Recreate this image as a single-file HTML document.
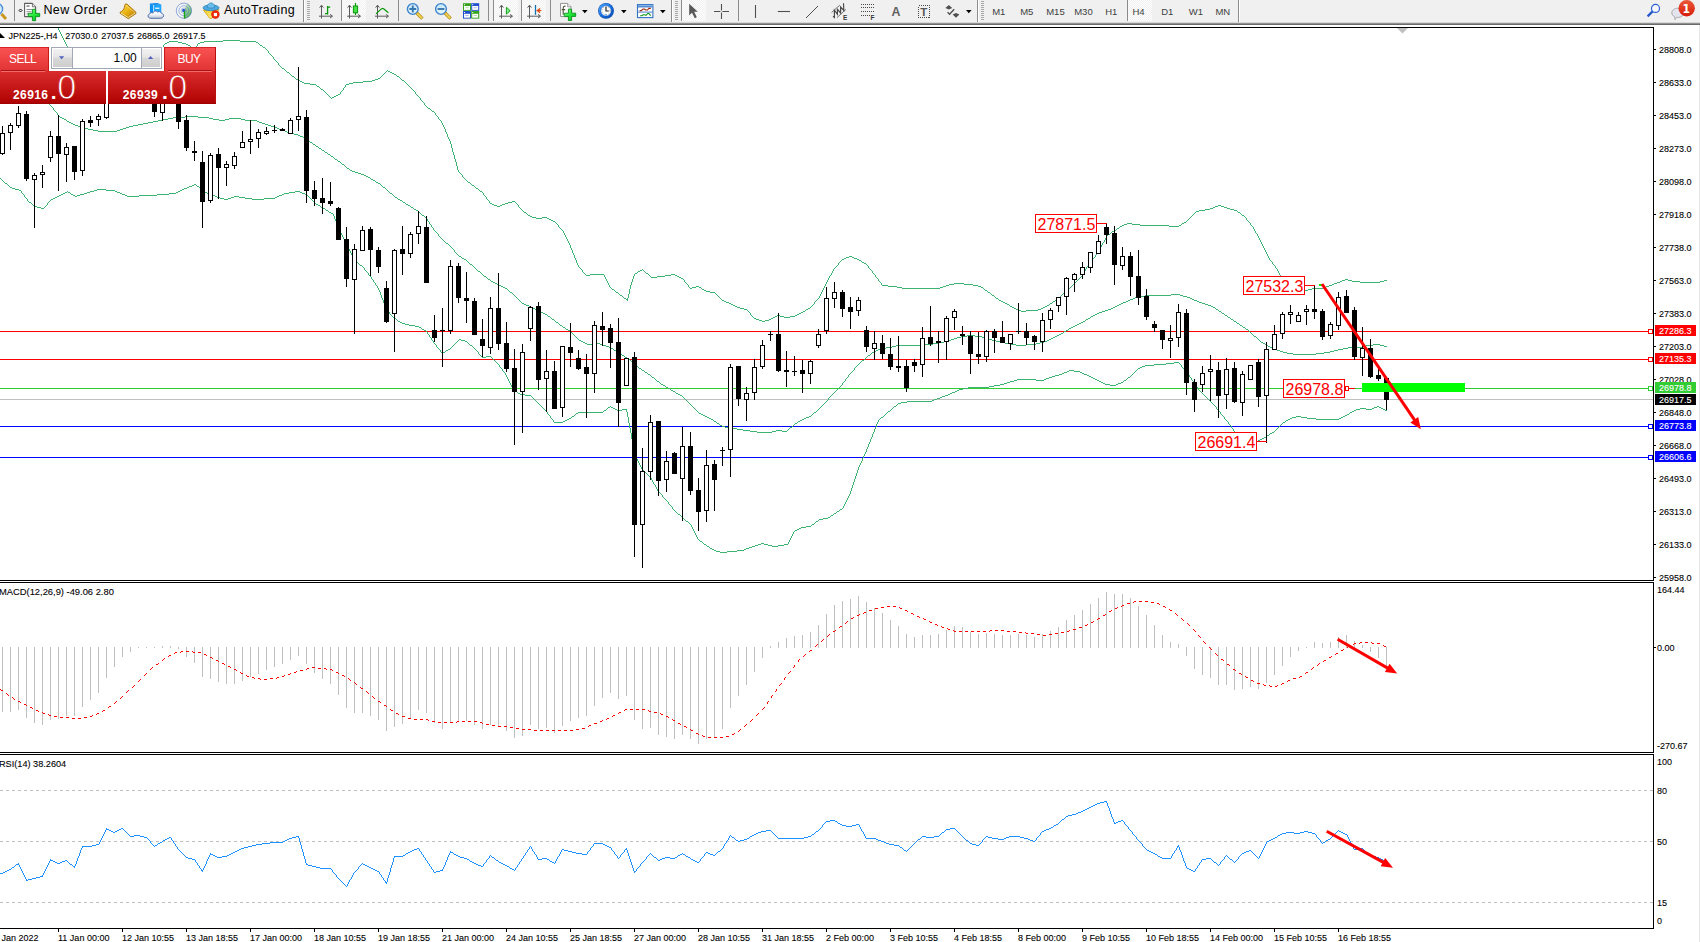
<!DOCTYPE html>
<html><head><meta charset="utf-8"><title>JPN225-,H4</title>
<style>
html,body{margin:0;padding:0;background:#fff;}
body{width:1700px;height:942px;overflow:hidden;position:relative;font-family:"Liberation Sans",sans-serif;}
#chart{position:absolute;left:0;top:0;}
#tb{position:absolute;left:0;top:0;width:1700px;height:25px;background:#f0f0f0;}
#tb .bl{position:absolute;left:0;width:1700px;height:1px;}
#tb .t{position:absolute;white-space:nowrap;color:#000;}
#tb svg{position:absolute;overflow:visible;}
.sep{position:absolute;top:2px;width:1px;height:19px;background:#a0a0a0;}
.tf{position:absolute;top:6px;font-size:9.5px;color:#444;white-space:nowrap;}

</style></head><body>
<svg id="chart" width="1700" height="942" viewBox="0 0 1700 942">
<defs><clipPath id="cpMain"><rect x="0" y="28" width="1653" height="552"/></clipPath></defs>
<g shape-rendering="crispEdges">
<rect x="0" y="25" width="1700" height="917" fill="#fff"/>
<g clip-path="url(#cpMain)">
<rect x="0" y="399" width="1653" height="1" fill="#c0c0c0"/>
<rect x="0" y="331" width="1653" height="1" fill="#ff0000"/>
<rect x="0" y="359" width="1653" height="1" fill="#ff0000"/>
<rect x="0" y="388" width="1653" height="1" fill="#32cd32"/>
<rect x="0" y="426" width="1653" height="1" fill="#0000ff"/>
<rect x="0" y="457" width="1653" height="1" fill="#0000ff"/>
<path d="M304 83h6v1h-6zM349 83h4v1h-4zM1127 223h5v1h-5zM1182 223h2v1h-2zM690 288h2v1h-2zM902 288h38v1h-38zM1291 288h2v1h-2zM1312 288h12v1h-12zM169 41h9v1h-9zM204 41h19v1h-19zM240 41h16v1h-16zM681 278h2v1h-2zM1340 281h2v1h-2zM1352 281h8v1h-8zM1380 281h4v1h-4zM1122 225h2v1h-2zM1140 225h29v1h-29zM1179 225h2v1h-2zM859 260h2v1h-2zM616 292h2v1h-2zM710 292h5v1h-5zM988 292h2v1h-2zM188 45h2v1h-2zM260 45h2v1h-2zM1337 282h3v1h-3zM1360 282h20v1h-20zM70 52h89v1h-89zM949 284h5v1h-5zM964 284h9v1h-9zM1332 284h2v1h-2zM740 308h4v1h-4zM808 308h2v1h-2zM1014 308h2v1h-2zM1041 308h2v1h-2zM590 274h14v1h-14zM671 274h4v1h-4zM731 304h2v1h-2zM1007 304h2v1h-2zM302 82h2v1h-2zM353 82h10v1h-10zM724 301h2v1h-2zM1001 301h2v1h-2zM1053 301h2v1h-2zM844 258h2v1h-2zM854 258h3v1h-3zM704 290h2v1h-2zM985 290h2v1h-2zM1066 290h2v1h-2zM1295 290h13v1h-13zM524 212h2v1h-2zM1238 212h2v1h-2zM733 305h2v1h-2zM1047 305h2v1h-2zM657 276h8v1h-8zM677 276h2v1h-2zM1120 226h2v1h-2zM1169 226h10v1h-10zM773 317h2v1h-2zM784 317h6v1h-6zM635 273h2v1h-2zM646 273h2v1h-2zM777 315h3v1h-3zM795 315h2v1h-2zM754 318h2v1h-2zM771 318h2v1h-2zM296 79h2v1h-2zM375 79h3v1h-3zM651 277h6v1h-6zM679 277h2v1h-2zM167 42h2v1h-2zM178 42h4v1h-4zM200 42h4v1h-4zM256 42h2v1h-2zM846 257h3v1h-3zM852 257h2v1h-2zM1342 280h3v1h-3zM1348 280h4v1h-4zM1384 280h3v1h-3zM1210 208h3v1h-3zM1227 208h3v1h-3zM1205 209h5v1h-5zM1230 209h4v1h-4zM1213 207h2v1h-2zM1224 207h3v1h-3zM692 287h4v1h-4zM699 287h2v1h-2zM897 287h5v1h-5zM940 287h3v1h-3zM981 287h2v1h-2zM1289 287h2v1h-2zM1324 287h2v1h-2zM300 81h2v1h-2zM363 81h9v1h-9zM586 275h4v1h-4zM665 275h6v1h-6zM675 275h2v1h-2zM165 43h2v1h-2zM182 43h4v1h-4zM198 43h2v1h-2zM1199 210h6v1h-6zM1234 210h3v1h-3zM392 73h2v1h-2zM744 309h3v1h-3zM806 309h2v1h-2zM1016 309h2v1h-2zM1038 309h3v1h-3zM1345 279h3v1h-3zM508 202h4v1h-4zM528 215h2v1h-2zM1242 215h2v1h-2zM336 95h2v1h-2zM638 271h2v1h-2zM882 285h6v1h-6zM946 285h3v1h-3zM973 285h5v1h-5zM1329 285h3v1h-3zM332 97h2v1h-2zM310 84h6v1h-6zM346 84h3v1h-3zM864 263h2v1h-2zM737 307h3v1h-3zM1012 307h2v1h-2zM1043 307h2v1h-2zM729 303h2v1h-2zM1005 303h2v1h-2zM1050 303h2v1h-2zM722 300h2v1h-2zM999 300h2v1h-2zM1055 300h2v1h-2zM530 216h2v1h-2zM612 289h2v1h-2zM702 289h2v1h-2zM1293 289h2v1h-2zM1308 289h4v1h-4zM1196 211h3v1h-3zM1184 222h2v1h-2zM640 270h2v1h-2zM223 40h17v1h-17zM696 286h3v1h-3zM888 286h9v1h-9zM943 286h3v1h-3zM978 286h3v1h-3zM1326 286h3v1h-3zM759 320h3v1h-3zM765 320h4v1h-4zM494 205h3v1h-3zM500 205h2v1h-2zM1218 205h3v1h-3zM620 295h2v1h-2zM992 295h2v1h-2zM480 191h2v1h-2zM954 283h10v1h-10zM1334 283h3v1h-3zM626 299h2v1h-2zM1018 310h3v1h-3zM1026 310h12v1h-12zM803 311h2v1h-2zM1021 311h5v1h-5zM1124 224h3v1h-3zM1132 224h8v1h-8zM476 188h2v1h-2zM492 204h2v1h-2zM502 204h3v1h-3zM394 74h2v1h-2zM842 259h2v1h-2zM857 259h2v1h-2zM532 217h4v1h-4zM542 217h5v1h-5zM862 262h2v1h-2zM263 47h2v1h-2zM497 206h3v1h-3zM1215 206h3v1h-3zM1221 206h3v1h-3zM536 218h6v1h-6zM547 218h2v1h-2zM775 316h2v1h-2zM780 316h4v1h-4zM790 316h5v1h-5zM192 48h4v1h-4zM334 96h2v1h-2zM553 221h2v1h-2zM186 44h2v1h-2zM549 219h2v1h-2zM624 298h2v1h-2zM996 298h2v1h-2zM849 256h3v1h-3zM706 291h4v1h-4zM756 319h3v1h-3zM769 319h2v1h-2zM317 86h2v1h-2zM797 314h2v1h-2zM298 80h2v1h-2zM372 80h3v1h-3zM402 80h2v1h-2zM551 220h2v1h-2zM726 302h3v1h-3zM1003 302h2v1h-2zM1114 230h2v1h-2zM735 306h2v1h-2zM1010 306h2v1h-2zM1045 306h2v1h-2zM801 312h2v1h-2zM321 89h2v1h-2zM762 321h3v1h-3zM292 76h2v1h-2zM397 76h2v1h-2zM287 72h2v1h-2zM390 72h2v1h-2zM1112 231h2v1h-2zM338 94h2v1h-2zM799 313h2v1h-2zM428 108h2v1h-2zM490 203h2v1h-2zM505 203h3v1h-3zM378 78h2v1h-2zM432 111h2v1h-2zM388 71h2v1h-2zM512 201h3v1h-3zM1117 228h2v1h-2zM1108 234h2v1h-2zM472 185h2v1h-2zM468 182h2v1h-2zM282 68h2v1h-2zM1262 244h1v2h-1zM571 248h1v2h-1zM1060 296h1v1h-1zM1110 233h1v1h-1zM556 223h1v1h-1zM470 183h1v1h-1zM343 88h1v2h-1zM877 278h1v1h-1zM994 296h1v1h-1zM518 205h1v2h-1zM629 289h1v5h-1zM577 263h1v2h-1zM1058 298h1v1h-1zM881 283h1v2h-1zM1102 243h1v2h-1zM1082 274h1v2h-1zM607 281h1v2h-1zM831 273h1v2h-1zM400 78h1v1h-1zM488 200h1v1h-1zM1240 213h1v1h-1zM1094 257h1v1h-1zM1272 262h1v2h-1zM1280 275h1v2h-1zM401 79h1v1h-1zM611 288h1v1h-1zM196 46h1v2h-1zM1265 250h1v2h-1zM614 290h1v1h-1zM1273 264h1v1h-1zM63 38h1v2h-1zM812 305h1v1h-1zM1086 267h1v2h-1zM604 275h1v2h-1zM268 51h1v2h-1zM434 112h1v1h-1zM60 32h1v2h-1zM1074 283h1v1h-1zM720 298h1v1h-1zM827 280h1v2h-1zM526 213h1v1h-1zM991 294h1v1h-1zM1247 220h1v1h-1zM721 299h1v1h-1zM630 285h1v4h-1zM570 245h1v3h-1zM275 60h1v1h-1zM870 269h1v1h-1zM276 61h1v1h-1zM454 155h1v4h-1zM823 288h1v2h-1zM1194 213h1v1h-1zM645 272h1v1h-1zM447 134h1v3h-1zM574 255h1v3h-1zM415 92h1v2h-1zM191 47h1v1h-1zM610 287h1v1h-1zM815 301h1v1h-1zM753 317h1v1h-1zM465 179h1v1h-1zM1279 273h1v2h-1zM421 100h1v1h-1zM1181 224h1v1h-1zM294 77h1v1h-1zM59 30h1v2h-1zM1264 248h1v2h-1zM422 101h1v1h-1zM990 293h1v1h-1zM451 144h1v4h-1zM1283 280h1v1h-1zM1246 218h1v2h-1zM869 268h1v1h-1zM637 272h1v1h-1zM558 225h1v2h-1zM576 260h1v3h-1zM1101 245h1v2h-1zM396 75h1v1h-1zM407 84h1v1h-1zM1250 223h1v2h-1zM559 227h1v1h-1zM520 208h1v1h-1zM323 90h1v1h-1zM880 282h1v1h-1zM580 268h1v1h-1zM521 209h1v1h-1zM458 170h1v2h-1zM1065 291h1v1h-1zM1105 238h1v2h-1zM1085 269h1v2h-1zM689 287h1v1h-1zM606 279h1v2h-1zM475 187h1v1h-1zM1062 294h1v1h-1zM826 282h1v2h-1zM62 36h1v2h-1zM1275 266h1v2h-1zM342 90h1v1h-1zM345 85h1v2h-1zM701 288h1v1h-1zM436 115h1v1h-1zM444 127h1v2h-1zM628 294h1v4h-1zM160 49h1v2h-1zM1189 218h1v1h-1zM437 116h1v1h-1zM1081 276h1v1h-1zM267 50h1v1h-1zM1261 242h1v2h-1zM569 243h1v2h-1zM810 307h1v1h-1zM822 290h1v2h-1zM319 87h1v1h-1zM384 73h1v1h-1zM278 63h1v2h-1zM289 73h1v1h-1zM1254 229h1v2h-1zM1069 288h1v1h-1zM609 285h1v2h-1zM457 166h1v4h-1zM821 292h1v2h-1zM715 293h1v1h-1zM1282 278h1v2h-1zM58 28h1v2h-1zM414 91h1v1h-1zM572 250h1v3h-1zM61 34h1v2h-1zM633 276h1v3h-1zM834 268h1v1h-1zM716 294h1v1h-1zM424 103h1v2h-1zM330 97h1v1h-1zM1278 271h1v2h-1zM435 113h1v2h-1zM868 266h1v2h-1zM425 105h1v1h-1zM1260 240h1v2h-1zM872 271h1v2h-1zM1104 240h1v2h-1zM1049 304h1v1h-1zM1084 271h1v1h-1zM830 275h1v1h-1zM632 279h1v3h-1zM450 141h1v3h-1zM471 184h1v1h-1zM1093 258h1v1h-1zM582 270h1v2h-1zM1096 254h1v1h-1zM277 62h1v1h-1zM413 90h1v1h-1zM69 50h1v2h-1zM814 302h1v2h-1zM575 258h1v2h-1zM583 272h1v1h-1zM262 46h1v1h-1zM453 152h1v3h-1zM605 277h1v2h-1zM1076 281h1v1h-1zM608 283h1v2h-1zM446 132h1v2h-1zM1100 247h1v2h-1zM1281 277h1v1h-1zM527 214h1v1h-1zM163 45h1v2h-1zM1274 265h1v1h-1zM423 102h1v1h-1zM285 70h1v1h-1zM269 53h1v1h-1zM443 125h1v2h-1zM1263 246h1v2h-1zM1248 221h1v1h-1zM270 54h1v1h-1zM1099 249h1v2h-1zM1259 238h1v2h-1zM568 241h1v2h-1zM825 284h1v2h-1zM1237 211h1v1h-1zM1249 222h1v1h-1zM1057 299h1v1h-1zM871 270h1v1h-1zM817 299h1v1h-1zM489 201h1v2h-1zM561 229h1v1h-1zM68 48h1v2h-1zM833 269h1v2h-1zM1191 216h1v1h-1zM431 110h1v1h-1zM452 148h1v4h-1zM523 211h1v1h-1zM416 94h1v1h-1zM445 129h1v3h-1zM1277 269h1v2h-1zM466 180h1v1h-1zM386 71h1v1h-1zM438 117h1v2h-1zM284 69h1v1h-1zM295 78h1v1h-1zM1080 277h1v1h-1zM467 181h1v1h-1zM829 276h1v2h-1zM439 119h1v1h-1zM1092 259h1v2h-1zM456 162h1v4h-1zM841 260h1v1h-1zM1071 286h1v1h-1zM442 123h1v2h-1zM820 294h1v2h-1zM258 43h1v1h-1zM1255 231h1v2h-1zM1064 292h1v1h-1zM875 275h1v2h-1zM627 298h1v1h-1zM627 300h1v1h-1zM1087 266h1v1h-1zM836 266h1v1h-1zM1256 233h1v1h-1zM482 192h1v1h-1zM324 91h1v1h-1zM1068 289h1v1h-1zM430 109h1v1h-1zM159 51h1v1h-1zM344 87h1v1h-1zM449 139h1v2h-1zM1252 226h1v1h-1zM459 172h1v1h-1zM684 280h1v2h-1zM325 92h1v1h-1zM987 291h1v1h-1zM631 282h1v3h-1zM748 311h1v1h-1zM1083 272h1v2h-1zM1276 268h1v1h-1zM1095 255h1v2h-1zM1284 281h1v1h-1zM331 98h1v1h-1zM623 297h1v1h-1zM824 286h1v2h-1zM455 159h1v3h-1zM197 44h1v2h-1zM1285 282h1v1h-1zM1103 242h1v1h-1zM805 310h1v1h-1zM1258 236h1v2h-1zM515 202h1v1h-1zM567 239h1v2h-1zM408 85h1v1h-1zM427 107h1v1h-1zM1251 225h1v1h-1zM560 228h1v1h-1zM634 274h1v2h-1zM581 269h1v1h-1zM381 76h1v1h-1zM162 47h1v1h-1zM747 310h1v1h-1zM279 65h1v1h-1zM874 274h1v1h-1zM522 210h1v1h-1zM1107 235h1v1h-1zM564 233h1v2h-1zM1075 282h1v1h-1zM1119 227h1v1h-1zM280 66h1v1h-1zM1111 232h1v1h-1zM291 75h1v1h-1zM828 278h1v2h-1zM1195 212h1v1h-1zM64 40h1v2h-1zM622 296h1v1h-1zM1059 297h1v1h-1zM717 295h1v1h-1zM1009 305h1v1h-1zM441 121h1v2h-1zM1098 251h1v2h-1zM832 271h1v2h-1zM320 88h1v1h-1zM426 106h1v1h-1zM1186 221h1v1h-1zM1078 279h1v1h-1zM566 237h1v2h-1zM290 74h1v1h-1zM1090 262h1v1h-1zM983 288h1v1h-1zM839 262h1v1h-1zM873 273h1v1h-1zM642 269h1v1h-1zM448 137h1v2h-1zM683 279h1v1h-1zM67 46h1v2h-1zM563 231h1v2h-1zM584 273h1v1h-1zM573 253h1v2h-1zM750 313h1v2h-1zM462 175h1v2h-1zM585 274h1v1h-1zM385 72h1v1h-1zM1269 258h1v2h-1zM819 296h1v2h-1zM1287 285h1v1h-1zM1070 287h1v1h-1zM440 120h1v1h-1zM816 300h1v1h-1zM286 71h1v1h-1zM1106 236h1v2h-1zM1193 214h1v1h-1zM1257 234h1v2h-1zM565 235h1v2h-1zM483 193h1v2h-1zM811 306h1v1h-1zM484 195h1v1h-1zM618 293h1v1h-1zM66 44h1v2h-1zM1073 284h1v1h-1zM316 85h1v1h-1zM461 174h1v1h-1zM998 299h1v1h-1zM686 283h1v1h-1zM327 94h1v1h-1zM1286 283h1v2h-1zM1089 263h1v2h-1zM648 274h1v1h-1zM838 263h1v2h-1zM271 55h1v1h-1zM1253 227h1v2h-1zM161 48h1v1h-1zM410 87h1v1h-1zM861 261h1v1h-1zM1190 217h1v1h-1zM562 230h1v1h-1zM876 277h1v1h-1zM341 91h1v1h-1zM411 88h1v1h-1zM749 312h1v1h-1zM281 67h1v1h-1zM417 95h1v1h-1zM1188 219h1v1h-1zM326 93h1v1h-1zM487 199h1v1h-1zM1268 256h1v2h-1zM418 96h1v1h-1zM383 74h1v1h-1zM259 44h1v1h-1zM1077 280h1v1h-1zM719 297h1v1h-1zM164 44h1v1h-1zM835 267h1v1h-1zM555 222h1v1h-1zM516 203h1v1h-1zM409 86h1v1h-1zM274 59h1v1h-1zM517 204h1v1h-1zM486 197h1v2h-1zM1061 295h1v1h-1zM65 42h1v2h-1zM460 173h1v1h-1zM685 282h1v1h-1zM399 77h1v1h-1zM644 271h1v1h-1zM1097 253h1v1h-1zM1267 254h1v2h-1zM273 57h1v2h-1zM478 189h1v1h-1zM1271 261h1v1h-1zM479 190h1v1h-1zM340 92h1v2h-1zM380 77h1v1h-1zM878 279h1v2h-1zM879 281h1v1h-1zM190 46h1v1h-1zM1072 285h1v1h-1zM818 298h1v1h-1zM420 98h1v2h-1zM1116 229h1v1h-1zM718 296h1v1h-1zM1192 215h1v1h-1zM464 178h1v1h-1zM813 304h1v1h-1zM1288 286h1v1h-1zM984 289h1v1h-1zM387 70h1v1h-1zM578 265h1v2h-1zM406 83h1v1h-1zM519 207h1v1h-1zM619 294h1v1h-1zM1245 217h1v1h-1zM579 267h1v1h-1zM643 270h1v1h-1zM485 196h1v1h-1zM751 315h1v1h-1zM463 177h1v1h-1zM688 285h1v2h-1zM474 186h1v1h-1zM1079 278h1v1h-1zM1088 265h1v1h-1zM1266 252h1v2h-1zM752 316h1v1h-1zM1091 261h1v1h-1zM837 265h1v1h-1zM1270 260h1v1h-1zM419 97h1v1h-1zM265 48h1v1h-1zM1241 214h1v1h-1zM404 81h1v1h-1zM1063 293h1v1h-1zM1244 216h1v1h-1zM866 264h1v1h-1zM266 49h1v1h-1zM1052 302h1v1h-1zM329 96h1v1h-1zM405 82h1v1h-1zM615 291h1v1h-1zM272 56h1v1h-1zM867 265h1v1h-1zM557 224h1v1h-1zM1187 220h1v1h-1zM995 297h1v1h-1zM412 89h1v1h-1zM687 284h1v1h-1zM328 95h1v1h-1zM382 75h1v1h-1zM840 261h1v1h-1zM649 275h1v1h-1zM650 276h1v1h-1z" fill="#3cb371"/>
<path d="M98 131h19v1h-19zM285 131h2v1h-2zM1145 295h26v1h-26zM1180 295h3v1h-3zM73 124h2v1h-2zM138 124h5v1h-5zM265 124h3v1h-3zM64 119h2v1h-2zM163 119h5v1h-5zM213 119h6v1h-6zM225 119h4v1h-4zM241 119h4v1h-4zM470 264h2v1h-2zM560 325h2v1h-2zM1075 325h2v1h-2zM1240 325h2v1h-2zM75 125h3v1h-3zM133 125h5v1h-5zM268 125h3v1h-3zM878 349h3v1h-3zM1274 349h3v1h-3zM1338 349h5v1h-5zM737 429h6v1h-6zM614 350h2v1h-2zM876 350h2v1h-2zM1277 350h3v1h-3zM1334 350h4v1h-4zM603 345h3v1h-3zM896 345h28v1h-28zM1016 345h10v1h-10zM1266 345h2v1h-2zM1366 345h7v1h-7zM1380 345h4v1h-4zM67 121h2v1h-2zM153 121h5v1h-5zM257 121h2v1h-2zM69 122h2v1h-2zM148 122h5v1h-5zM259 122h3v1h-3zM717 423h2v1h-2zM795 423h2v1h-2zM951 339h3v1h-3zM989 339h3v1h-3zM1049 339h2v1h-2zM609 347h2v1h-2zM886 347h6v1h-6zM1270 347h2v1h-2zM1348 347h14v1h-14zM957 337h4v1h-4zM982 337h3v1h-3zM1053 337h2v1h-2zM587 344h6v1h-6zM600 344h3v1h-3zM924 344h9v1h-9zM1010 344h6v1h-6zM1026 344h10v1h-10zM1373 344h7v1h-7zM556 322h2v1h-2zM1081 322h2v1h-2zM503 287h2v1h-2zM757 432h15v1h-15zM566 329h2v1h-2zM1246 329h2v1h-2zM62 118h2v1h-2zM168 118h5v1h-5zM209 118h4v1h-4zM229 118h12v1h-12zM526 305h3v1h-3zM1117 305h2v1h-2zM1208 305h3v1h-3zM645 372h2v1h-2zM552 319h2v1h-2zM1086 319h2v1h-2zM1231 319h2v1h-2zM81 127h3v1h-3zM126 127h3v1h-3zM274 127h3v1h-3zM84 128h4v1h-4zM123 128h3v1h-3zM277 128h2v1h-2zM731 428h6v1h-6zM585 343h2v1h-2zM593 343h7v1h-7zM933 343h5v1h-5zM1005 343h5v1h-5zM1036 343h4v1h-4zM1263 343h2v1h-2zM606 346h3v1h-3zM892 346h4v1h-4zM1268 346h2v1h-2zM1362 346h4v1h-4zM1384 346h3v1h-3zM1171 294h9v1h-9zM1135 297h4v1h-4zM1187 297h3v1h-3zM563 327h2v1h-2zM1071 327h2v1h-2zM1243 327h2v1h-2zM872 352h2v1h-2zM1283 352h4v1h-4zM1324 352h6v1h-6zM290 133h4v1h-4zM543 313h2v1h-2zM1097 313h2v1h-2zM1222 313h2v1h-2zM185 116h13v1h-13zM678 394h2v1h-2zM93 130h5v1h-5zM117 130h3v1h-3zM282 130h3v1h-3zM537 310h2v1h-2zM1105 310h3v1h-3zM1126 301h2v1h-2zM1197 301h2v1h-2zM634 364h2v1h-2zM583 342h2v1h-2zM938 342h6v1h-6zM1000 342h5v1h-5zM1040 342h4v1h-4zM1261 342h2v1h-2zM579 340h2v1h-2zM948 340h3v1h-3zM992 340h4v1h-4zM1047 340h2v1h-2zM522 303h2v1h-2zM1121 303h2v1h-2zM1202 303h3v1h-3zM352 171h3v1h-3zM347 168h2v1h-2zM711 419h2v1h-2zM802 419h2v1h-2zM328 154h2v1h-2zM1079 323h2v1h-2zM1237 323h2v1h-2zM1077 324h2v1h-2zM666 387h2v1h-2zM954 338h3v1h-3zM985 338h4v1h-4zM1051 338h2v1h-2zM539 311h2v1h-2zM1102 311h3v1h-3zM1219 311h2v1h-2zM619 353h2v1h-2zM1287 353h6v1h-6zM1316 353h8v1h-8zM750 431h7v1h-7zM772 431h4v1h-4zM782 431h5v1h-5zM71 123h2v1h-2zM143 123h5v1h-5zM262 123h3v1h-3zM342 164h2v1h-2zM622 355h2v1h-2zM868 355h2v1h-2zM961 336h6v1h-6zM975 336h7v1h-7zM1055 336h2v1h-2zM1254 336h2v1h-2zM294 134h4v1h-4zM47 103h2v1h-2zM1059 334h2v1h-2zM967 335h8v1h-8zM1057 335h2v1h-2zM625 357h2v1h-2zM533 308h2v1h-2zM1111 308h2v1h-2zM1083 321h2v1h-2zM1234 321h2v1h-2zM524 304h2v1h-2zM1119 304h2v1h-2zM1205 304h3v1h-3zM493 282h2v1h-2zM699 413h2v1h-2zM529 306h2v1h-2zM1115 306h2v1h-2zM1211 306h2v1h-2zM60 117h2v1h-2zM173 117h12v1h-12zM198 117h11v1h-11zM1139 296h6v1h-6zM1183 296h4v1h-4zM1293 354h23v1h-23zM725 427h6v1h-6zM790 427h2v1h-2zM568 330h2v1h-2zM1066 330h2v1h-2zM548 316h2v1h-2zM1091 316h2v1h-2zM287 132h3v1h-3zM1228 317h2v1h-2zM720 425h2v1h-2zM459 256h2v1h-2zM1064 331h2v1h-2zM78 126h3v1h-3zM129 126h4v1h-4zM271 126h3v1h-3zM371 179h2v1h-2zM1088 318h2v1h-2zM657 381h2v1h-2zM671 390h2v1h-2zM611 348h2v1h-2zM881 348h5v1h-5zM1272 348h2v1h-2zM1343 348h5v1h-5zM510 292h2v1h-2zM484 276h2v1h-2zM862 360h2v1h-2zM505 288h2v1h-2zM1130 299h3v1h-3zM1192 299h2v1h-2zM158 120h5v1h-5zM219 120h6v1h-6zM245 120h12v1h-12zM1123 302h3v1h-3zM1199 302h3v1h-3zM499 285h2v1h-2zM531 307h2v1h-2zM1113 307h2v1h-2zM1213 307h2v1h-2zM335 159h2v1h-2zM1069 328h2v1h-2zM616 351h2v1h-2zM874 351h2v1h-2zM1280 351h3v1h-3zM1330 351h4v1h-4zM376 182h2v1h-2zM464 259h2v1h-2zM541 312h2v1h-2zM1099 312h3v1h-3zM676 393h2v1h-2zM1073 326h2v1h-2zM535 309h2v1h-2zM1108 309h3v1h-3zM1216 309h2v1h-2zM408 205h2v1h-2zM743 430h7v1h-7zM776 430h6v1h-6zM581 341h2v1h-2zM944 341h4v1h-4zM996 341h4v1h-4zM1044 341h3v1h-3zM88 129h5v1h-5zM120 129h3v1h-3zM279 129h3v1h-3zM628 359h2v1h-2zM478 271h2v1h-2zM680 395h2v1h-2zM1093 315h2v1h-2zM1225 315h2v1h-2zM709 418h2v1h-2zM804 418h2v1h-2zM800 420h2v1h-2zM1061 333h2v1h-2zM639 368h2v1h-2zM491 281h2v1h-2zM545 314h2v1h-2zM1095 314h2v1h-2zM462 258h2v1h-2zM673 391h2v1h-2zM648 374h2v1h-2zM368 177h2v1h-2zM361 174h3v1h-3zM1133 298h2v1h-2zM1190 298h2v1h-2zM663 385h2v1h-2zM1128 300h2v1h-2zM1194 300h3v1h-3zM383 187h2v1h-2zM705 416h2v1h-2zM809 416h2v1h-2zM416 210h2v1h-2zM497 284h2v1h-2zM378 183h2v1h-2zM390 193h2v1h-2zM652 377h2v1h-2zM411 207h2v1h-2zM373 180h2v1h-2zM358 173h3v1h-3zM306 139h2v1h-2zM668 388h2v1h-2zM400 200h2v1h-2zM501 286h2v1h-2zM495 283h2v1h-2zM446 243h2v1h-2zM722 426h3v1h-3zM316 146h2v1h-2zM814 412h2v1h-2zM364 175h2v1h-2zM355 172h3v1h-3zM403 202h2v1h-2zM422 215h2v1h-2zM366 176h2v1h-2zM325 152h2v1h-2zM642 370h2v1h-2zM313 144h2v1h-2zM414 209h2v1h-2zM488 279h2v1h-2zM703 415h2v1h-2zM707 417h2v1h-2zM806 417h3v1h-3zM714 421h2v1h-2zM798 421h2v1h-2zM338 161h2v1h-2zM319 148h2v1h-2zM406 204h2v1h-2zM303 137h2v1h-2zM395 197h2v1h-2zM350 170h2v1h-2zM331 156h2v1h-2zM300 136h3v1h-3zM661 384h2v1h-2zM322 150h2v1h-2zM310 142h2v1h-2zM701 414h2v1h-2zM298 135h2v1h-2zM398 199h2v1h-2zM432 227h1v1h-1zM789 428h1v1h-1zM716 422h1v1h-1zM794 424h1v1h-1zM458 255h1v1h-1zM818 409h1v1h-1zM825 402h1v1h-1zM452 248h1v1h-1zM521 302h1v1h-1zM828 398h1v2h-1zM826 401h1v1h-1zM333 157h1v1h-1zM44 100h1v1h-1zM440 237h1v1h-1zM659 382h1v1h-1zM867 356h1v1h-1zM633 363h1v1h-1zM475 268h1v1h-1zM787 430h1v1h-1zM696 410h1v1h-1zM816 411h1v1h-1zM792 426h1v1h-1zM793 425h1v1h-1zM402 201h1v1h-1zM340 162h1v1h-1zM824 403h1v1h-1zM334 158h1v1h-1zM842 383h1v2h-1zM453 249h1v1h-1zM551 318h1v1h-1zM845 379h1v2h-1zM570 331h1v1h-1zM1259 340h1v1h-1zM870 354h1v1h-1zM871 353h1v1h-1zM697 411h1v1h-1zM860 362h1v1h-1zM477 270h1v1h-1zM341 163h1v1h-1zM558 323h1v1h-1zM841 385h1v1h-1zM425 217h1v1h-1zM57 113h1v2h-1zM858 364h1v1h-1zM621 354h1v1h-1zM647 373h1v1h-1zM859 363h1v1h-1zM565 328h1v1h-1zM1230 318h1v1h-1zM1256 337h1v1h-1zM559 324h1v1h-1zM397 198h1v1h-1zM454 250h1v2h-1zM58 115h1v1h-1zM654 378h1v1h-1zM840 386h1v1h-1zM698 412h1v1h-1zM857 365h1v1h-1zM1218 310h1v1h-1zM450 246h1v1h-1zM429 222h1v2h-1zM349 169h1v1h-1zM438 234h1v2h-1zM577 338h1v1h-1zM1224 314h1v1h-1zM830 396h1v1h-1zM831 395h1v1h-1zM508 290h1v1h-1zM838 388h1v1h-1zM853 370h1v1h-1zM474 267h1v1h-1zM419 212h1v1h-1zM426 218h1v1h-1zM573 334h1v1h-1zM451 247h1v1h-1zM1085 320h1v1h-1zM1257 338h1v1h-1zM45 101h1v1h-1zM829 397h1v1h-1zM381 185h1v1h-1zM836 390h1v1h-1zM375 181h1v1h-1zM59 116h1v1h-1zM682 396h1v1h-1zM305 138h1v1h-1zM486 277h1v1h-1zM324 151h1v1h-1zM430 224h1v1h-1zM461 257h1v1h-1zM389 192h1v1h-1zM431 225h1v2h-1zM382 186h1v1h-1zM509 291h1v1h-1zM656 380h1v1h-1zM312 143h1v1h-1zM445 242h1v1h-1zM1265 344h1v1h-1zM848 375h1v2h-1zM797 422h1v1h-1zM55 111h1v1h-1zM370 178h1v1h-1zM637 366h1v1h-1zM441 238h1v1h-1zM435 231h1v1h-1zM476 269h1v1h-1zM469 263h1v1h-1zM575 336h1v1h-1zM844 381h1v1h-1zM487 278h1v1h-1zM421 214h1v1h-1zM46 102h1v1h-1zM847 377h1v1h-1zM865 358h1v1h-1zM846 378h1v1h-1zM472 265h1v1h-1zM644 371h1v1h-1zM1242 326h1v1h-1zM571 332h1v1h-1zM1260 341h1v1h-1zM822 405h1v1h-1zM1248 330h1v1h-1zM843 382h1v1h-1zM864 359h1v1h-1zM56 112h1v1h-1zM627 358h1v1h-1zM572 333h1v1h-1zM820 407h1v1h-1zM442 239h1v1h-1zM1236 322h1v1h-1zM821 406h1v1h-1zM1068 329h1v1h-1zM839 387h1v1h-1zM380 184h1v1h-1zM466 260h1v1h-1zM443 240h1v1h-1zM428 221h1v1h-1zM837 389h1v1h-1zM655 379h1v1h-1zM53 108h1v2h-1zM413 208h1v1h-1zM444 241h1v1h-1zM1063 332h1v1h-1zM686 400h1v1h-1zM439 236h1v1h-1zM578 339h1v1h-1zM433 228h1v2h-1zM855 367h1v1h-1zM467 261h1v1h-1zM547 315h1v1h-1zM1250 332h1v1h-1zM636 365h1v1h-1zM420 213h1v1h-1zM812 414h1v1h-1zM574 335h1v1h-1zM719 424h1v1h-1zM713 420h1v1h-1zM687 401h1v1h-1zM851 372h1v1h-1zM318 147h1v1h-1zM434 230h1v1h-1zM554 320h1v1h-1zM1251 333h1v1h-1zM385 188h1v1h-1zM854 368h1v2h-1zM852 371h1v1h-1zM337 160h1v1h-1zM683 397h1v1h-1zM54 110h1v1h-1zM344 165h1v1h-1zM849 374h1v1h-1zM850 373h1v1h-1zM468 262h1v1h-1zM513 294h1v1h-1zM394 196h1v1h-1zM823 404h1v1h-1zM624 356h1v1h-1zM650 375h1v1h-1zM49 104h1v1h-1zM66 120h1v1h-1zM456 253h1v1h-1zM833 393h1v1h-1zM562 326h1v1h-1zM1252 334h1v1h-1zM427 219h1v2h-1zM638 367h1v1h-1zM684 398h1v1h-1zM436 232h1v1h-1zM576 337h1v1h-1zM515 296h1v1h-1zM618 352h1v1h-1zM1221 312h1v1h-1zM481 273h1v1h-1zM694 408h1v1h-1zM345 166h1v1h-1zM1233 320h1v1h-1zM1253 335h1v1h-1zM1227 316h1v1h-1zM51 106h1v1h-1zM418 211h1v1h-1zM690 404h1v1h-1zM685 399h1v1h-1zM437 233h1v1h-1zM651 376h1v1h-1zM1249 331h1v1h-1zM346 167h1v1h-1zM1215 308h1v1h-1zM457 254h1v1h-1zM520 301h1v1h-1zM856 366h1v1h-1zM410 206h1v1h-1zM613 349h1v1h-1zM632 362h1v1h-1zM308 140h1v1h-1zM327 153h1v1h-1zM813 413h1v1h-1zM516 297h1v1h-1zM819 408h1v1h-1zM392 194h1v1h-1zM52 107h1v1h-1zM861 361h1v1h-1zM330 155h1v1h-1zM665 386h1v1h-1zM512 293h1v1h-1zM691 405h1v1h-1zM315 145h1v1h-1zM309 141h1v1h-1zM811 415h1v1h-1zM517 298h1v1h-1zM788 429h1v1h-1zM448 244h1v1h-1zM483 275h1v1h-1zM817 410h1v1h-1zM835 391h1v1h-1zM692 406h1v1h-1zM405 203h1v1h-1zM866 357h1v1h-1zM424 216h1v1h-1zM490 280h1v1h-1zM688 402h1v1h-1zM834 392h1v1h-1zM555 321h1v1h-1zM393 195h1v1h-1zM386 189h1v1h-1zM660 383h1v1h-1zM455 252h1v1h-1zM449 245h1v1h-1zM518 299h1v1h-1zM832 394h1v1h-1zM630 360h1v1h-1zM675 392h1v1h-1zM519 300h1v1h-1zM387 190h1v1h-1zM693 407h1v1h-1zM514 295h1v1h-1zM1239 324h1v1h-1zM1090 317h1v1h-1zM641 369h1v1h-1zM507 289h1v1h-1zM473 266h1v1h-1zM480 272h1v1h-1zM1245 328h1v1h-1zM50 105h1v1h-1zM689 403h1v1h-1zM631 361h1v1h-1zM695 409h1v1h-1zM670 389h1v1h-1zM482 274h1v1h-1zM827 400h1v1h-1zM550 317h1v1h-1zM388 191h1v1h-1zM321 149h1v1h-1zM1258 339h1v1h-1z" fill="#3cb371"/>
<path d="M331 213h2v1h-2zM834 513h2v1h-2zM1064 372h3v1h-3zM1080 372h2v1h-2zM934 399h3v1h-3zM572 416h2v1h-2zM1296 416h5v1h-5zM1343 416h2v1h-2zM51 199h2v1h-2zM224 199h4v1h-4zM252 199h12v1h-12zM615 409h2v1h-2zM622 409h5v1h-5zM1356 409h4v1h-4zM1366 409h6v1h-6zM1383 409h2v1h-2zM749 547h3v1h-3zM63 193h2v1h-2zM84 193h3v1h-3zM120 193h2v1h-2zM169 193h7v1h-7zM207 193h2v1h-2zM284 193h5v1h-5zM302 193h3v1h-3zM1270 433h2v1h-2zM1000 384h4v1h-4zM1105 384h5v1h-5zM1116 384h2v1h-2zM567 419h2v1h-2zM1288 419h2v1h-2zM1316 419h23v1h-23zM554 422h9v1h-9zM1283 422h2v1h-2zM59 195h2v1h-2zM73 195h2v1h-2zM77 195h3v1h-3zM125 195h2v1h-2zM139 195h18v1h-18zM212 195h3v1h-3zM279 195h3v1h-3zM61 194h2v1h-2zM71 194h2v1h-2zM80 194h4v1h-4zM122 194h3v1h-3zM157 194h12v1h-12zM209 194h3v1h-3zM282 194h2v1h-2zM305 194h2v1h-2zM65 192h2v1h-2zM68 192h2v1h-2zM87 192h3v1h-3zM117 192h3v1h-3zM176 192h2v1h-2zM205 192h2v1h-2zM289 192h6v1h-6zM300 192h2v1h-2zM41 208h3v1h-3zM323 208h2v1h-2zM968 387h21v1h-21zM1345 415h2v1h-2zM714 550h2v1h-2zM737 550h7v1h-7zM1166 363h8v1h-8zM360 265h2v1h-2zM1052 376h3v1h-3zM1089 376h2v1h-2zM57 196h2v1h-2zM75 196h2v1h-2zM127 196h12v1h-12zM215 196h2v1h-2zM234 196h5v1h-5zM277 196h2v1h-2zM704 544h2v1h-2zM758 544h3v1h-3zM764 544h4v1h-4zM784 544h4v1h-4zM53 198h2v1h-2zM220 198h4v1h-4zM228 198h3v1h-3zM245 198h7v1h-7zM264 198h11v1h-11zM1062 373h2v1h-2zM1082 373h2v1h-2zM937 398h3v1h-3zM604 410h2v1h-2zM617 410h5v1h-5zM1354 410h2v1h-2zM1385 410h2v1h-2zM894 406h2v1h-2zM1377 406h2v1h-2zM55 197h2v1h-2zM217 197h3v1h-3zM231 197h3v1h-3zM239 197h6v1h-6zM275 197h2v1h-2zM35 206h2v1h-2zM700 541h2v1h-2zM443 352h2v1h-2zM409 325h6v1h-6zM812 524h2v1h-2zM831 515h2v1h-2zM1140 367h2v1h-2zM19 190h2v1h-2zM94 190h3v1h-3zM106 190h9v1h-9zM180 190h2v1h-2zM202 190h2v1h-2zM888 411h2v1h-2zM1352 411h2v1h-2zM12 188h3v1h-3zM184 188h3v1h-3zM356 262h2v1h-2zM422 329h2v1h-2zM716 551h4v1h-4zM727 551h10v1h-10zM959 389h4v1h-4zM720 552h7v1h-7zM761 543h3v1h-3zM578 412h25v1h-25zM1350 412h2v1h-2zM994 385h6v1h-6zM1110 385h6v1h-6zM801 527h5v1h-5zM37 207h4v1h-4zM321 207h2v1h-2zM707 546h2v1h-2zM752 546h3v1h-3zM772 546h6v1h-6zM1017 379h19v1h-19zM1044 379h2v1h-2zM1095 379h2v1h-2zM907 401h25v1h-25zM1055 375h4v1h-4zM1087 375h2v1h-2zM192 185h2v1h-2zM1014 380h3v1h-3zM1036 380h8v1h-8zM1097 380h2v1h-2zM1124 380h2v1h-2zM1049 377h3v1h-3zM1091 377h2v1h-2zM1128 377h2v1h-2zM569 418h2v1h-2zM1290 418h2v1h-2zM1307 418h9v1h-9zM1339 418h2v1h-2zM329 212h2v1h-2zM1067 371h2v1h-2zM1074 371h6v1h-6zM415 326h4v1h-4zM755 545h3v1h-3zM768 545h4v1h-4zM778 545h6v1h-6zM90 191h4v1h-4zM115 191h2v1h-2zM178 191h2v1h-2zM295 191h5v1h-5zM881 417h2v1h-2zM1292 417h4v1h-4zM1301 417h6v1h-6zM1341 417h2v1h-2zM837 511h2v1h-2zM576 413h2v1h-2zM613 408h2v1h-2zM1360 408h6v1h-6zM1372 408h2v1h-2zM1381 408h2v1h-2zM518 393h2v1h-2zM950 393h2v1h-2zM189 186h3v1h-3zM197 186h2v1h-2zM525 395h6v1h-6zM945 395h3v1h-3zM33 205h2v1h-2zM318 205h2v1h-2zM1258 440h2v1h-2zM15 189h4v1h-4zM97 189h9v1h-9zM182 189h2v1h-2zM932 400h2v1h-2zM1253 443h2v1h-2zM1007 382h3v1h-3zM1101 382h2v1h-2zM1121 382h2v1h-2zM1264 437h2v1h-2zM1247 446h2v1h-2zM952 392h3v1h-3zM1004 383h3v1h-3zM1103 383h2v1h-2zM1118 383h3v1h-3zM10 187h2v1h-2zM187 187h2v1h-2zM419 327h2v1h-2zM1272 432h2v1h-2zM1069 370h5v1h-5zM1145 365h9v1h-9zM710 548h2v1h-2zM746 548h3v1h-3zM806 526h5v1h-5zM565 420h2v1h-2zM1286 420h2v1h-2zM1260 439h2v1h-2zM5 183h2v1h-2zM678 514h2v1h-2zM955 391h2v1h-2zM402 323h3v1h-3zM1138 368h2v1h-2zM1262 438h2v1h-2zM1174 362h5v1h-5zM29 202h2v1h-2zM823 518h5v1h-5zM1046 378h3v1h-3zM1093 378h2v1h-2zM1154 364h12v1h-12zM1347 414h2v1h-2zM446 350h2v1h-2zM828 517h2v1h-2zM1010 381h4v1h-4zM1099 381h2v1h-2zM1255 442h2v1h-2zM608 407h2v1h-2zM611 407h2v1h-2zM1374 407h3v1h-3zM1379 407h2v1h-2zM797 529h2v1h-2zM901 402h6v1h-6zM459 339h2v1h-2zM486 356h5v1h-5zM514 390h2v1h-2zM957 390h2v1h-2zM819 519h4v1h-4zM316 204h2v1h-2zM712 549h2v1h-2zM744 549h2v1h-2zM461 340h4v1h-4zM448 349h2v1h-2zM482 357h4v1h-4zM1267 435h2v1h-2zM942 396h3v1h-3zM1251 444h2v1h-2zM799 528h2v1h-2zM840 509h2v1h-2zM686 521h2v1h-2zM816 521h2v1h-2zM1142 366h3v1h-3zM989 386h5v1h-5zM465 341h2v1h-2zM405 324h4v1h-4zM470 345h2v1h-2zM1249 445h2v1h-2zM963 388h5v1h-5zM563 421h2v1h-2zM1059 374h3v1h-3zM1084 374h3v1h-3zM940 397h2v1h-2zM795 530h2v1h-2zM326 210h2v1h-2zM400 322h2v1h-2zM520 394h5v1h-5zM948 394h2v1h-2zM394 318h2v1h-2zM898 403h3v1h-3zM194 184h2v1h-2zM398 321h2v1h-2zM424 330h2v1h-2zM1186 371h1v2h-1zM629 423h1v5h-1zM677 513h1v1h-1zM853 482h1v3h-1zM655 485h1v2h-1zM856 473h1v3h-1zM607 408h1v1h-1zM547 412h1v2h-1zM200 188h1v1h-1zM630 428h1v5h-1zM873 432h1v2h-1zM32 204h1v1h-1zM860 463h1v2h-1zM790 538h1v2h-1zM651 478h1v2h-1zM1216 407h1v2h-1zM1200 391h1v1h-1zM852 485h1v3h-1zM669 504h1v1h-1zM876 424h1v3h-1zM328 211h1v1h-1zM427 332h1v2h-1zM1222 415h1v1h-1zM1201 392h1v1h-1zM339 229h1v2h-1zM633 444h1v4h-1zM865 452h1v2h-1zM1223 416h1v1h-1zM431 338h1v2h-1zM639 463h1v2h-1zM844 504h1v2h-1zM676 512h1v1h-1zM453 345h1v1h-1zM353 257h1v2h-1zM468 343h1v1h-1zM868 444h1v3h-1zM2 180h1v1h-1zM695 533h1v2h-1zM636 456h1v3h-1zM546 411h1v1h-1zM24 195h1v2h-1zM354 259h1v2h-1zM794 531h1v1h-1zM688 522h1v1h-1zM1208 399h1v1h-1zM1237 435h1v2h-1zM632 439h1v5h-1zM884 415h1v1h-1zM196 185h1v1h-1zM864 454h1v2h-1zM550 416h1v2h-1zM702 542h1v1h-1zM28 201h1v1h-1zM1241 440h1v2h-1zM1278 427h1v1h-1zM662 495h1v2h-1zM342 235h1v2h-1zM393 317h1v1h-1zM1275 430h1v1h-1zM1136 370h1v1h-1zM382 298h1v2h-1zM338 227h1v2h-1zM1133 373h1v1h-1zM848 496h1v2h-1zM872 434h1v3h-1zM368 273h1v2h-1zM309 197h1v1h-1zM851 488h1v3h-1zM320 206h1v1h-1zM352 255h1v2h-1zM855 476h1v3h-1zM789 540h1v2h-1zM441 352h1v1h-1zM694 531h1v2h-1zM1207 398h1v1h-1zM1236 434h1v1h-1zM698 539h1v1h-1zM1185 370h1v1h-1zM505 373h1v2h-1zM859 465h1v2h-1zM516 391h1v1h-1zM359 264h1v1h-1zM1189 375h1v2h-1zM549 415h1v1h-1zM457 341h1v1h-1zM839 510h1v1h-1zM661 494h1v1h-1zM854 479h1v3h-1zM341 233h1v2h-1zM1214 405h1v1h-1zM683 518h1v1h-1zM626 410h1v2h-1zM843 506h1v2h-1zM381 295h1v3h-1zM475 349h1v1h-1zM535 400h1v1h-1zM697 537h1v2h-1zM1225 419h1v1h-1zM668 502h1v2h-1zM426 331h1v1h-1zM793 532h1v2h-1zM1127 378h1v1h-1zM367 272h1v1h-1zM672 507h1v2h-1zM542 407h1v1h-1zM440 350h1v2h-1zM866 449h1v3h-1zM635 452h1v4h-1zM349 249h1v2h-1zM875 427h1v2h-1zM27 199h1v2h-1zM646 473h1v1h-1zM334 216h1v3h-1zM534 399h1v1h-1zM553 420h1v2h-1zM660 493h1v1h-1zM1188 374h1v1h-1zM871 437h1v2h-1zM850 491h1v3h-1zM1282 423h1v1h-1zM429 335h1v2h-1zM1224 417h1v2h-1zM788 542h1v2h-1zM863 456h1v2h-1zM541 406h1v1h-1zM512 387h1v2h-1zM452 346h1v1h-1zM1131 375h1v1h-1zM433 341h1v2h-1zM879 419h1v1h-1zM355 261h1v1h-1zM1269 434h1v1h-1zM628 417h1v6h-1zM497 363h1v1h-1zM883 416h1v1h-1zM1239 438h1v1h-1zM693 529h1v2h-1zM348 247h1v2h-1zM862 458h1v3h-1zM1191 378h1v2h-1zM690 524h1v1h-1zM333 214h1v2h-1zM1240 439h1v1h-1zM606 409h1v1h-1zM8 185h1v1h-1zM1192 380h1v1h-1zM552 419h1v1h-1zM201 189h1v1h-1zM814 523h1v1h-1zM455 343h1v1h-1zM1217 409h1v1h-1zM858 467h1v3h-1zM45 206h1v1h-1zM670 505h1v1h-1zM631 433h1v6h-1zM870 439h1v3h-1zM478 352h1v2h-1zM428 334h1v1h-1zM337 224h1v3h-1zM897 404h1v1h-1zM634 448h1v4h-1zM369 275h1v1h-1zM671 506h1v1h-1zM874 429h1v3h-1zM511 385h1v2h-1zM351 253h1v2h-1zM890 410h1v1h-1zM370 276h1v1h-1zM311 199h1v1h-1zM696 535h1v2h-1zM1257 441h1v1h-1zM1277 428h1v1h-1zM857 470h1v3h-1zM689 523h1v1h-1zM4 182h1v1h-1zM1135 371h1v1h-1zM1195 384h1v2h-1zM1266 436h1v1h-1zM792 534h1v2h-1zM551 418h1v1h-1zM627 412h1v5h-1zM663 497h1v1h-1zM818 520h1v1h-1zM48 202h1v1h-1zM380 292h1v3h-1zM1202 393h1v1h-1zM878 420h1v2h-1zM574 415h1v1h-1zM432 340h1v1h-1zM336 221h1v3h-1zM811 525h1v1h-1zM3 181h1v1h-1zM373 280h1v2h-1zM1179 363h1v1h-1zM499 365h1v2h-1zM641 467h1v2h-1zM1228 422h1v2h-1zM699 540h1v1h-1zM436 345h1v2h-1zM350 251h1v2h-1zM1209 400h1v1h-1zM500 367h1v1h-1zM450 348h1v1h-1zM1180 364h1v1h-1zM692 527h1v2h-1zM377 286h1v2h-1zM442 353h1v1h-1zM674 510h1v1h-1zM830 516h1v1h-1zM1242 442h1v1h-1zM325 209h1v1h-1zM648 475h1v1h-1zM384 303h1v2h-1zM344 239h1v2h-1zM536 401h1v1h-1zM70 193h1v1h-1zM477 351h1v1h-1zM1126 379h1v1h-1zM492 358h1v1h-1zM684 519h1v1h-1zM861 461h1v2h-1zM1130 376h1v1h-1zM673 509h1v1h-1zM685 520h1v1h-1zM1226 420h1v1h-1zM1227 421h1v1h-1zM435 344h1v1h-1zM517 392h1v1h-1zM22 193h1v1h-1zM386 307h1v2h-1zM691 525h1v2h-1zM347 245h1v2h-1zM1190 377h1v1h-1zM47 203h1v2h-1zM1193 381h1v2h-1zM387 309h1v1h-1zM491 357h1v1h-1zM390 314h1v1h-1zM1215 406h1v1h-1zM1194 383h1v1h-1zM454 344h1v1h-1zM383 300h1v3h-1zM869 442h1v2h-1zM892 408h1v1h-1zM476 350h1v1h-1zM1279 426h1v1h-1zM885 414h1v1h-1zM836 512h1v1h-1zM430 337h1v1h-1zM498 364h1v1h-1zM1137 369h1v1h-1zM640 465h1v2h-1zM371 277h1v2h-1zM510 383h1v2h-1zM379 290h1v2h-1zM513 389h1v1h-1zM543 408h1v1h-1zM502 369h1v2h-1zM372 279h1v1h-1zM21 191h1v2h-1zM1234 431h1v2h-1zM647 474h1v1h-1zM847 498h1v2h-1zM1183 368h1v1h-1zM385 305h1v2h-1zM346 243h1v2h-1zM1197 387h1v2h-1zM67 191h1v1h-1zM9 186h1v1h-1zM896 405h1v1h-1zM665 499h1v1h-1zM1204 395h1v1h-1zM434 343h1v1h-1zM364 268h1v2h-1zM1219 411h1v1h-1zM375 283h1v2h-1zM1181 365h1v2h-1zM709 547h1v1h-1zM509 381h1v2h-1zM335 219h1v2h-1zM1229 424h1v1h-1zM378 288h1v2h-1zM1182 367h1v1h-1zM389 312h1v2h-1zM312 200h1v1h-1zM1230 425h1v1h-1zM50 200h1v1h-1zM1233 429h1v2h-1zM877 422h1v2h-1zM610 406h1v1h-1zM313 201h1v1h-1zM1244 444h1v2h-1zM345 241h1v2h-1zM1196 386h1v1h-1zM1218 410h1v1h-1zM680 515h1v1h-1zM479 354h1v1h-1zM1203 394h1v1h-1zM494 360h1v1h-1zM374 282h1v1h-1zM445 351h1v1h-1zM657 489h1v2h-1zM1210 401h1v1h-1zM388 310h1v2h-1zM1274 431h1v1h-1zM531 396h1v1h-1zM653 482h1v2h-1zM1211 402h1v1h-1zM1243 443h1v1h-1zM664 498h1v1h-1zM472 346h1v1h-1zM1132 374h1v1h-1zM654 484h1v1h-1zM867 447h1v2h-1zM199 187h1v1h-1zM537 402h1v1h-1zM31 203h1v1h-1zM846 500h1v2h-1zM538 403h1v1h-1zM396 319h1v1h-1zM815 522h1v1h-1zM508 379h1v2h-1zM456 342h1v1h-1zM642 469h1v1h-1zM437 347h1v1h-1zM501 368h1v1h-1zM643 470h1v1h-1zM544 409h1v1h-1zM675 511h1v1h-1zM887 412h1v1h-1zM842 508h1v1h-1zM545 410h1v1h-1zM23 194h1v1h-1zM891 409h1v1h-1zM1281 424h1v1h-1zM880 418h1v1h-1zM649 476h1v1h-1zM650 477h1v1h-1zM493 359h1v1h-1zM362 266h1v1h-1zM1221 414h1v1h-1zM363 267h1v1h-1zM791 536h1v2h-1zM307 195h1v1h-1zM638 461h1v2h-1zM507 377h1v2h-1zM467 342h1v1h-1zM1 179h1v1h-1zM1231 426h1v2h-1zM308 196h1v1h-1zM571 417h1v1h-1zM46 205h1v1h-1zM49 201h1v1h-1zM1232 428h1v1h-1zM575 414h1v1h-1zM656 487h1v2h-1zM504 372h1v1h-1zM1184 369h1v1h-1zM1285 421h1v1h-1zM391 315h1v1h-1zM314 202h1v1h-1zM845 502h1v2h-1zM44 207h1v1h-1zM1198 389h1v1h-1zM392 316h1v1h-1zM315 203h1v1h-1zM1246 447h1v1h-1zM1220 412h1v2h-1zM1199 390h1v1h-1zM310 198h1v1h-1zM340 231h1v2h-1zM682 517h1v1h-1zM1276 429h1v1h-1zM481 356h1v1h-1zM0 178h1v1h-1zM1205 396h1v1h-1zM667 501h1v1h-1zM503 371h1v1h-1zM637 459h1v2h-1zM1134 372h1v1h-1zM506 375h1v2h-1zM376 285h1v1h-1zM1123 381h1v1h-1zM1235 433h1v1h-1zM1206 397h1v1h-1zM358 263h1v1h-1zM652 480h1v2h-1zM548 414h1v1h-1zM532 397h1v1h-1zM26 198h1v1h-1zM1212 403h1v1h-1zM421 328h1v1h-1zM343 237h1v2h-1zM1245 446h1v1h-1zM451 347h1v1h-1zM473 347h1v1h-1zM533 398h1v1h-1zM1213 404h1v1h-1zM666 500h1v1h-1zM474 348h1v1h-1zM365 270h1v1h-1zM480 355h1v1h-1zM204 191h1v1h-1zM366 271h1v1h-1zM1349 413h1v1h-1zM540 405h1v1h-1zM849 494h1v2h-1zM886 413h1v1h-1zM644 471h1v1h-1zM833 514h1v1h-1zM645 472h1v1h-1zM658 491h1v1h-1zM25 197h1v1h-1zM1238 437h1v1h-1zM659 492h1v1h-1zM1187 373h1v1h-1zM603 411h1v1h-1zM458 340h1v1h-1zM681 516h1v1h-1zM7 184h1v1h-1zM703 543h1v1h-1zM706 545h1v1h-1zM495 361h1v1h-1zM539 404h1v1h-1zM397 320h1v1h-1zM893 407h1v1h-1zM496 362h1v1h-1zM438 348h1v1h-1zM1280 425h1v1h-1zM469 344h1v1h-1zM439 349h1v1h-1z" fill="#3cb371"/>
<rect x="2" y="126" width="1" height="29" fill="#000"/>
<rect x="0" y="133" width="5" height="21" fill="#000"/>
<rect x="1" y="134" width="3" height="19" fill="#fff"/>
<rect x="10" y="123" width="1" height="27" fill="#000"/>
<rect x="8" y="125" width="5" height="8" fill="#000"/>
<rect x="9" y="126" width="3" height="6" fill="#fff"/>
<rect x="18" y="106" width="1" height="22" fill="#000"/>
<rect x="16" y="113" width="5" height="13" fill="#000"/>
<rect x="17" y="114" width="3" height="11" fill="#fff"/>
<rect x="26" y="111" width="1" height="70" fill="#000"/>
<rect x="24" y="114" width="5" height="65" fill="#000"/>
<rect x="34" y="173" width="1" height="55" fill="#000"/>
<rect x="32" y="175" width="5" height="5" fill="#000"/>
<rect x="33" y="176" width="3" height="3" fill="#fff"/>
<rect x="42" y="165" width="1" height="23" fill="#000"/>
<rect x="40" y="172" width="5" height="3" fill="#000"/>
<rect x="41" y="173" width="3" height="1" fill="#fff"/>
<rect x="50" y="131" width="1" height="31" fill="#000"/>
<rect x="48" y="136" width="5" height="22" fill="#000"/>
<rect x="49" y="137" width="3" height="20" fill="#fff"/>
<rect x="58" y="115" width="1" height="76" fill="#000"/>
<rect x="56" y="136" width="5" height="18" fill="#000"/>
<rect x="66" y="143" width="1" height="39" fill="#000"/>
<rect x="64" y="147" width="5" height="8" fill="#000"/>
<rect x="65" y="148" width="3" height="6" fill="#fff"/>
<rect x="74" y="146" width="1" height="34" fill="#000"/>
<rect x="72" y="146" width="5" height="26" fill="#000"/>
<rect x="82" y="119" width="1" height="57" fill="#000"/>
<rect x="80" y="121" width="5" height="50" fill="#000"/>
<rect x="81" y="122" width="3" height="48" fill="#fff"/>
<rect x="90" y="116" width="1" height="11" fill="#000"/>
<rect x="88" y="120" width="5" height="3" fill="#000"/>
<rect x="98" y="114" width="1" height="12" fill="#000"/>
<rect x="96" y="116" width="5" height="4" fill="#000"/>
<rect x="97" y="117" width="3" height="2" fill="#fff"/>
<rect x="106" y="95" width="1" height="24" fill="#000"/>
<rect x="104" y="100" width="5" height="18" fill="#000"/>
<rect x="105" y="101" width="3" height="16" fill="#fff"/>
<rect x="154" y="95" width="1" height="22" fill="#000"/>
<rect x="152" y="100" width="5" height="12" fill="#000"/>
<rect x="162" y="95" width="1" height="26" fill="#000"/>
<rect x="160" y="100" width="5" height="13" fill="#000"/>
<rect x="161" y="101" width="3" height="11" fill="#fff"/>
<rect x="178" y="95" width="1" height="34" fill="#000"/>
<rect x="176" y="100" width="5" height="22" fill="#000"/>
<rect x="186" y="115" width="1" height="36" fill="#000"/>
<rect x="184" y="120" width="5" height="28" fill="#000"/>
<rect x="194" y="141" width="1" height="20" fill="#000"/>
<rect x="192" y="151" width="5" height="2" fill="#000"/>
<rect x="202" y="151" width="1" height="77" fill="#000"/>
<rect x="200" y="162" width="5" height="40" fill="#000"/>
<rect x="210" y="153" width="1" height="50" fill="#000"/>
<rect x="208" y="155" width="5" height="46" fill="#000"/>
<rect x="209" y="156" width="3" height="44" fill="#fff"/>
<rect x="218" y="148" width="1" height="51" fill="#000"/>
<rect x="216" y="154" width="5" height="14" fill="#000"/>
<rect x="226" y="161" width="1" height="25" fill="#000"/>
<rect x="224" y="164" width="5" height="4" fill="#000"/>
<rect x="225" y="165" width="3" height="2" fill="#fff"/>
<rect x="234" y="152" width="1" height="17" fill="#000"/>
<rect x="232" y="156" width="5" height="10" fill="#000"/>
<rect x="233" y="157" width="3" height="8" fill="#fff"/>
<rect x="242" y="131" width="1" height="17" fill="#000"/>
<rect x="240" y="142" width="5" height="6" fill="#000"/>
<rect x="241" y="143" width="3" height="4" fill="#fff"/>
<rect x="250" y="120" width="1" height="34" fill="#000"/>
<rect x="248" y="139" width="5" height="3" fill="#000"/>
<rect x="249" y="140" width="3" height="1" fill="#fff"/>
<rect x="258" y="129" width="1" height="19" fill="#000"/>
<rect x="256" y="132" width="5" height="7" fill="#000"/>
<rect x="257" y="133" width="3" height="5" fill="#fff"/>
<rect x="266" y="127" width="1" height="8" fill="#000"/>
<rect x="264" y="131" width="5" height="3" fill="#000"/>
<rect x="265" y="132" width="3" height="1" fill="#fff"/>
<rect x="274" y="125" width="1" height="8" fill="#000"/>
<rect x="272" y="130" width="5" height="1" fill="#000"/>
<rect x="282" y="128" width="1" height="3" fill="#000"/>
<rect x="280" y="129" width="5" height="2" fill="#000"/>
<rect x="290" y="118" width="1" height="16" fill="#000"/>
<rect x="288" y="120" width="5" height="14" fill="#000"/>
<rect x="289" y="121" width="3" height="12" fill="#fff"/>
<rect x="298" y="67" width="1" height="64" fill="#000"/>
<rect x="296" y="116" width="5" height="4" fill="#000"/>
<rect x="297" y="117" width="3" height="2" fill="#fff"/>
<rect x="306" y="110" width="1" height="93" fill="#000"/>
<rect x="304" y="117" width="5" height="74" fill="#000"/>
<rect x="314" y="181" width="1" height="25" fill="#000"/>
<rect x="312" y="190" width="5" height="9" fill="#000"/>
<rect x="322" y="178" width="1" height="36" fill="#000"/>
<rect x="320" y="198" width="5" height="5" fill="#000"/>
<rect x="330" y="182" width="1" height="24" fill="#000"/>
<rect x="328" y="201" width="5" height="3" fill="#000"/>
<rect x="338" y="207" width="1" height="33" fill="#000"/>
<rect x="336" y="208" width="5" height="32" fill="#000"/>
<rect x="346" y="227" width="1" height="60" fill="#000"/>
<rect x="344" y="239" width="5" height="40" fill="#000"/>
<rect x="354" y="244" width="1" height="90" fill="#000"/>
<rect x="352" y="249" width="5" height="31" fill="#000"/>
<rect x="353" y="250" width="3" height="29" fill="#fff"/>
<rect x="362" y="226" width="1" height="25" fill="#000"/>
<rect x="360" y="230" width="5" height="21" fill="#000"/>
<rect x="361" y="231" width="3" height="19" fill="#fff"/>
<rect x="370" y="227" width="1" height="49" fill="#000"/>
<rect x="368" y="229" width="5" height="21" fill="#000"/>
<rect x="378" y="247" width="1" height="26" fill="#000"/>
<rect x="376" y="250" width="5" height="17" fill="#000"/>
<rect x="386" y="281" width="1" height="42" fill="#000"/>
<rect x="384" y="288" width="5" height="34" fill="#000"/>
<rect x="394" y="249" width="1" height="103" fill="#000"/>
<rect x="392" y="250" width="5" height="64" fill="#000"/>
<rect x="393" y="251" width="3" height="62" fill="#fff"/>
<rect x="402" y="226" width="1" height="49" fill="#000"/>
<rect x="400" y="249" width="5" height="5" fill="#000"/>
<rect x="410" y="232" width="1" height="26" fill="#000"/>
<rect x="408" y="234" width="5" height="20" fill="#000"/>
<rect x="409" y="235" width="3" height="18" fill="#fff"/>
<rect x="418" y="211" width="1" height="33" fill="#000"/>
<rect x="416" y="226" width="5" height="8" fill="#000"/>
<rect x="417" y="227" width="3" height="6" fill="#fff"/>
<rect x="426" y="216" width="1" height="67" fill="#000"/>
<rect x="424" y="227" width="5" height="56" fill="#000"/>
<rect x="434" y="315" width="1" height="27" fill="#000"/>
<rect x="432" y="330" width="5" height="8" fill="#000"/>
<rect x="442" y="308" width="1" height="59" fill="#000"/>
<rect x="440" y="330" width="5" height="1" fill="#000"/>
<rect x="450" y="260" width="1" height="74" fill="#000"/>
<rect x="448" y="266" width="5" height="65" fill="#000"/>
<rect x="449" y="267" width="3" height="63" fill="#fff"/>
<rect x="458" y="263" width="1" height="40" fill="#000"/>
<rect x="456" y="266" width="5" height="32" fill="#000"/>
<rect x="466" y="272" width="1" height="51" fill="#000"/>
<rect x="464" y="298" width="5" height="3" fill="#000"/>
<rect x="474" y="298" width="1" height="37" fill="#000"/>
<rect x="472" y="301" width="5" height="34" fill="#000"/>
<rect x="482" y="319" width="1" height="38" fill="#000"/>
<rect x="480" y="339" width="5" height="7" fill="#000"/>
<rect x="490" y="297" width="1" height="57" fill="#000"/>
<rect x="488" y="308" width="5" height="40" fill="#000"/>
<rect x="489" y="309" width="3" height="38" fill="#fff"/>
<rect x="498" y="273" width="1" height="77" fill="#000"/>
<rect x="496" y="308" width="5" height="36" fill="#000"/>
<rect x="506" y="322" width="1" height="50" fill="#000"/>
<rect x="504" y="343" width="5" height="26" fill="#000"/>
<rect x="514" y="349" width="1" height="96" fill="#000"/>
<rect x="512" y="368" width="5" height="24" fill="#000"/>
<rect x="522" y="344" width="1" height="89" fill="#000"/>
<rect x="520" y="352" width="5" height="40" fill="#000"/>
<rect x="521" y="353" width="3" height="38" fill="#fff"/>
<rect x="530" y="306" width="1" height="35" fill="#000"/>
<rect x="528" y="307" width="5" height="22" fill="#000"/>
<rect x="529" y="308" width="3" height="20" fill="#fff"/>
<rect x="538" y="302" width="1" height="88" fill="#000"/>
<rect x="536" y="306" width="5" height="74" fill="#000"/>
<rect x="546" y="350" width="1" height="62" fill="#000"/>
<rect x="544" y="371" width="5" height="8" fill="#000"/>
<rect x="545" y="372" width="3" height="6" fill="#fff"/>
<rect x="554" y="361" width="1" height="48" fill="#000"/>
<rect x="552" y="371" width="5" height="38" fill="#000"/>
<rect x="562" y="346" width="1" height="71" fill="#000"/>
<rect x="560" y="346" width="5" height="62" fill="#000"/>
<rect x="561" y="347" width="3" height="60" fill="#fff"/>
<rect x="570" y="323" width="1" height="44" fill="#000"/>
<rect x="568" y="347" width="5" height="6" fill="#000"/>
<rect x="578" y="350" width="1" height="20" fill="#000"/>
<rect x="576" y="358" width="5" height="11" fill="#000"/>
<rect x="586" y="354" width="1" height="64" fill="#000"/>
<rect x="584" y="367" width="5" height="7" fill="#000"/>
<rect x="594" y="321" width="1" height="72" fill="#000"/>
<rect x="592" y="325" width="5" height="49" fill="#000"/>
<rect x="593" y="326" width="3" height="47" fill="#fff"/>
<rect x="602" y="312" width="1" height="34" fill="#000"/>
<rect x="600" y="326" width="5" height="4" fill="#000"/>
<rect x="610" y="324" width="1" height="44" fill="#000"/>
<rect x="608" y="328" width="5" height="15" fill="#000"/>
<rect x="618" y="318" width="1" height="109" fill="#000"/>
<rect x="616" y="342" width="5" height="61" fill="#000"/>
<rect x="626" y="358" width="1" height="28" fill="#000"/>
<rect x="624" y="358" width="5" height="28" fill="#000"/>
<rect x="625" y="359" width="3" height="26" fill="#fff"/>
<rect x="634" y="352" width="1" height="205" fill="#000"/>
<rect x="632" y="357" width="5" height="168" fill="#000"/>
<rect x="642" y="448" width="1" height="120" fill="#000"/>
<rect x="640" y="471" width="5" height="54" fill="#000"/>
<rect x="641" y="472" width="3" height="52" fill="#fff"/>
<rect x="650" y="415" width="1" height="65" fill="#000"/>
<rect x="648" y="422" width="5" height="50" fill="#000"/>
<rect x="649" y="423" width="3" height="48" fill="#fff"/>
<rect x="658" y="421" width="1" height="75" fill="#000"/>
<rect x="656" y="421" width="5" height="60" fill="#000"/>
<rect x="666" y="451" width="1" height="41" fill="#000"/>
<rect x="664" y="461" width="5" height="19" fill="#000"/>
<rect x="665" y="462" width="3" height="17" fill="#fff"/>
<rect x="674" y="452" width="1" height="22" fill="#000"/>
<rect x="672" y="453" width="5" height="21" fill="#000"/>
<rect x="682" y="427" width="1" height="94" fill="#000"/>
<rect x="680" y="446" width="5" height="33" fill="#000"/>
<rect x="681" y="447" width="3" height="31" fill="#fff"/>
<rect x="690" y="432" width="1" height="63" fill="#000"/>
<rect x="688" y="446" width="5" height="45" fill="#000"/>
<rect x="698" y="478" width="1" height="53" fill="#000"/>
<rect x="696" y="490" width="5" height="22" fill="#000"/>
<rect x="706" y="450" width="1" height="72" fill="#000"/>
<rect x="704" y="465" width="5" height="46" fill="#000"/>
<rect x="705" y="466" width="3" height="44" fill="#fff"/>
<rect x="714" y="460" width="1" height="51" fill="#000"/>
<rect x="712" y="464" width="5" height="16" fill="#000"/>
<rect x="722" y="447" width="1" height="19" fill="#000"/>
<rect x="720" y="450" width="5" height="1" fill="#000"/>
<rect x="730" y="364" width="1" height="113" fill="#000"/>
<rect x="728" y="367" width="5" height="83" fill="#000"/>
<rect x="729" y="368" width="3" height="81" fill="#fff"/>
<rect x="738" y="366" width="1" height="40" fill="#000"/>
<rect x="736" y="366" width="5" height="33" fill="#000"/>
<rect x="746" y="387" width="1" height="34" fill="#000"/>
<rect x="744" y="393" width="5" height="7" fill="#000"/>
<rect x="745" y="394" width="3" height="5" fill="#fff"/>
<rect x="754" y="359" width="1" height="41" fill="#000"/>
<rect x="752" y="367" width="5" height="26" fill="#000"/>
<rect x="753" y="368" width="3" height="24" fill="#fff"/>
<rect x="762" y="340" width="1" height="29" fill="#000"/>
<rect x="760" y="345" width="5" height="22" fill="#000"/>
<rect x="761" y="346" width="3" height="20" fill="#fff"/>
<rect x="770" y="331" width="1" height="10" fill="#000"/>
<rect x="768" y="334" width="5" height="1" fill="#000"/>
<rect x="778" y="313" width="1" height="59" fill="#000"/>
<rect x="776" y="334" width="5" height="37" fill="#000"/>
<rect x="786" y="351" width="1" height="36" fill="#000"/>
<rect x="784" y="370" width="5" height="2" fill="#000"/>
<rect x="794" y="356" width="1" height="20" fill="#000"/>
<rect x="792" y="371" width="5" height="1" fill="#000"/>
<rect x="802" y="360" width="1" height="33" fill="#000"/>
<rect x="800" y="370" width="5" height="4" fill="#000"/>
<rect x="810" y="360" width="1" height="24" fill="#000"/>
<rect x="808" y="361" width="5" height="13" fill="#000"/>
<rect x="809" y="362" width="3" height="11" fill="#fff"/>
<rect x="818" y="329" width="1" height="19" fill="#000"/>
<rect x="816" y="334" width="5" height="12" fill="#000"/>
<rect x="817" y="335" width="3" height="10" fill="#fff"/>
<rect x="826" y="287" width="1" height="47" fill="#000"/>
<rect x="824" y="298" width="5" height="33" fill="#000"/>
<rect x="825" y="299" width="3" height="31" fill="#fff"/>
<rect x="834" y="282" width="1" height="26" fill="#000"/>
<rect x="832" y="292" width="5" height="7" fill="#000"/>
<rect x="833" y="293" width="3" height="5" fill="#fff"/>
<rect x="842" y="290" width="1" height="27" fill="#000"/>
<rect x="840" y="292" width="5" height="17" fill="#000"/>
<rect x="850" y="297" width="1" height="32" fill="#000"/>
<rect x="848" y="307" width="5" height="5" fill="#000"/>
<rect x="858" y="297" width="1" height="19" fill="#000"/>
<rect x="856" y="300" width="5" height="11" fill="#000"/>
<rect x="857" y="301" width="3" height="9" fill="#fff"/>
<rect x="866" y="326" width="1" height="26" fill="#000"/>
<rect x="864" y="330" width="5" height="17" fill="#000"/>
<rect x="874" y="331" width="1" height="29" fill="#000"/>
<rect x="872" y="343" width="5" height="6" fill="#000"/>
<rect x="873" y="344" width="3" height="4" fill="#fff"/>
<rect x="882" y="335" width="1" height="24" fill="#000"/>
<rect x="880" y="343" width="5" height="11" fill="#000"/>
<rect x="890" y="338" width="1" height="32" fill="#000"/>
<rect x="888" y="354" width="5" height="13" fill="#000"/>
<rect x="898" y="336" width="1" height="36" fill="#000"/>
<rect x="896" y="366" width="5" height="2" fill="#000"/>
<rect x="906" y="360" width="1" height="32" fill="#000"/>
<rect x="904" y="366" width="5" height="22" fill="#000"/>
<rect x="914" y="359" width="1" height="13" fill="#000"/>
<rect x="912" y="362" width="5" height="4" fill="#000"/>
<rect x="922" y="327" width="1" height="50" fill="#000"/>
<rect x="920" y="338" width="5" height="27" fill="#000"/>
<rect x="921" y="339" width="3" height="25" fill="#fff"/>
<rect x="930" y="306" width="1" height="40" fill="#000"/>
<rect x="928" y="337" width="5" height="7" fill="#000"/>
<rect x="938" y="331" width="1" height="32" fill="#000"/>
<rect x="936" y="341" width="5" height="2" fill="#000"/>
<rect x="946" y="316" width="1" height="44" fill="#000"/>
<rect x="944" y="318" width="5" height="24" fill="#000"/>
<rect x="945" y="319" width="3" height="22" fill="#fff"/>
<rect x="954" y="309" width="1" height="21" fill="#000"/>
<rect x="952" y="311" width="5" height="7" fill="#000"/>
<rect x="953" y="312" width="3" height="5" fill="#fff"/>
<rect x="962" y="326" width="1" height="19" fill="#000"/>
<rect x="960" y="334" width="5" height="2" fill="#000"/>
<rect x="970" y="331" width="1" height="43" fill="#000"/>
<rect x="968" y="336" width="5" height="18" fill="#000"/>
<rect x="978" y="332" width="1" height="32" fill="#000"/>
<rect x="976" y="354" width="5" height="3" fill="#000"/>
<rect x="986" y="330" width="1" height="32" fill="#000"/>
<rect x="984" y="331" width="5" height="26" fill="#000"/>
<rect x="985" y="332" width="3" height="24" fill="#fff"/>
<rect x="994" y="329" width="1" height="24" fill="#000"/>
<rect x="992" y="331" width="5" height="7" fill="#000"/>
<rect x="1002" y="321" width="1" height="22" fill="#000"/>
<rect x="1000" y="337" width="5" height="6" fill="#000"/>
<rect x="1010" y="334" width="1" height="16" fill="#000"/>
<rect x="1008" y="334" width="5" height="10" fill="#000"/>
<rect x="1009" y="335" width="3" height="8" fill="#fff"/>
<rect x="1018" y="303" width="1" height="31" fill="#000"/>
<rect x="1016" y="331" width="5" height="1" fill="#000"/>
<rect x="1026" y="323" width="1" height="22" fill="#000"/>
<rect x="1024" y="331" width="5" height="7" fill="#000"/>
<rect x="1034" y="335" width="1" height="15" fill="#000"/>
<rect x="1032" y="336" width="5" height="6" fill="#000"/>
<rect x="1042" y="313" width="1" height="39" fill="#000"/>
<rect x="1040" y="320" width="5" height="22" fill="#000"/>
<rect x="1041" y="321" width="3" height="20" fill="#fff"/>
<rect x="1050" y="308" width="1" height="21" fill="#000"/>
<rect x="1048" y="310" width="5" height="10" fill="#000"/>
<rect x="1049" y="311" width="3" height="8" fill="#fff"/>
<rect x="1058" y="297" width="1" height="15" fill="#000"/>
<rect x="1056" y="297" width="5" height="9" fill="#000"/>
<rect x="1057" y="298" width="3" height="7" fill="#fff"/>
<rect x="1066" y="277" width="1" height="38" fill="#000"/>
<rect x="1064" y="278" width="5" height="19" fill="#000"/>
<rect x="1065" y="279" width="3" height="17" fill="#fff"/>
<rect x="1074" y="273" width="1" height="19" fill="#000"/>
<rect x="1072" y="274" width="5" height="6" fill="#000"/>
<rect x="1073" y="275" width="3" height="4" fill="#fff"/>
<rect x="1082" y="262" width="1" height="17" fill="#000"/>
<rect x="1080" y="267" width="5" height="8" fill="#000"/>
<rect x="1081" y="268" width="3" height="6" fill="#fff"/>
<rect x="1090" y="252" width="1" height="21" fill="#000"/>
<rect x="1088" y="252" width="5" height="16" fill="#000"/>
<rect x="1089" y="253" width="3" height="14" fill="#fff"/>
<rect x="1098" y="235" width="1" height="19" fill="#000"/>
<rect x="1096" y="241" width="5" height="13" fill="#000"/>
<rect x="1097" y="242" width="3" height="11" fill="#fff"/>
<rect x="1106" y="223" width="1" height="21" fill="#000"/>
<rect x="1104" y="227" width="5" height="8" fill="#000"/>
<rect x="1114" y="226" width="1" height="59" fill="#000"/>
<rect x="1112" y="233" width="5" height="32" fill="#000"/>
<rect x="1122" y="247" width="1" height="23" fill="#000"/>
<rect x="1120" y="256" width="5" height="10" fill="#000"/>
<rect x="1121" y="257" width="3" height="8" fill="#fff"/>
<rect x="1130" y="252" width="1" height="44" fill="#000"/>
<rect x="1128" y="256" width="5" height="21" fill="#000"/>
<rect x="1138" y="250" width="1" height="55" fill="#000"/>
<rect x="1136" y="276" width="5" height="22" fill="#000"/>
<rect x="1146" y="289" width="1" height="31" fill="#000"/>
<rect x="1144" y="296" width="5" height="21" fill="#000"/>
<rect x="1154" y="321" width="1" height="11" fill="#000"/>
<rect x="1152" y="324" width="5" height="4" fill="#000"/>
<rect x="1162" y="330" width="1" height="19" fill="#000"/>
<rect x="1160" y="330" width="5" height="10" fill="#000"/>
<rect x="1170" y="325" width="1" height="33" fill="#000"/>
<rect x="1168" y="338" width="5" height="3" fill="#000"/>
<rect x="1169" y="339" width="3" height="1" fill="#fff"/>
<rect x="1178" y="304" width="1" height="43" fill="#000"/>
<rect x="1176" y="312" width="5" height="26" fill="#000"/>
<rect x="1177" y="313" width="3" height="24" fill="#fff"/>
<rect x="1186" y="309" width="1" height="86" fill="#000"/>
<rect x="1184" y="313" width="5" height="70" fill="#000"/>
<rect x="1194" y="379" width="1" height="33" fill="#000"/>
<rect x="1192" y="382" width="5" height="18" fill="#000"/>
<rect x="1202" y="366" width="1" height="26" fill="#000"/>
<rect x="1200" y="373" width="5" height="12" fill="#000"/>
<rect x="1201" y="374" width="3" height="10" fill="#fff"/>
<rect x="1210" y="355" width="1" height="46" fill="#000"/>
<rect x="1208" y="369" width="5" height="3" fill="#000"/>
<rect x="1209" y="370" width="3" height="1" fill="#fff"/>
<rect x="1218" y="362" width="1" height="56" fill="#000"/>
<rect x="1216" y="370" width="5" height="26" fill="#000"/>
<rect x="1226" y="358" width="1" height="51" fill="#000"/>
<rect x="1224" y="369" width="5" height="26" fill="#000"/>
<rect x="1225" y="370" width="3" height="24" fill="#fff"/>
<rect x="1234" y="362" width="1" height="41" fill="#000"/>
<rect x="1232" y="368" width="5" height="34" fill="#000"/>
<rect x="1242" y="371" width="1" height="45" fill="#000"/>
<rect x="1240" y="374" width="5" height="29" fill="#000"/>
<rect x="1241" y="375" width="3" height="27" fill="#fff"/>
<rect x="1250" y="365" width="1" height="15" fill="#000"/>
<rect x="1248" y="365" width="5" height="15" fill="#000"/>
<rect x="1249" y="366" width="3" height="13" fill="#fff"/>
<rect x="1258" y="359" width="1" height="48" fill="#000"/>
<rect x="1256" y="362" width="5" height="35" fill="#000"/>
<rect x="1266" y="342" width="1" height="101" fill="#000"/>
<rect x="1264" y="349" width="5" height="47" fill="#000"/>
<rect x="1265" y="350" width="3" height="45" fill="#fff"/>
<rect x="1274" y="325" width="1" height="25" fill="#000"/>
<rect x="1272" y="334" width="5" height="16" fill="#000"/>
<rect x="1273" y="335" width="3" height="14" fill="#fff"/>
<rect x="1282" y="312" width="1" height="27" fill="#000"/>
<rect x="1280" y="314" width="5" height="20" fill="#000"/>
<rect x="1281" y="315" width="3" height="18" fill="#fff"/>
<rect x="1290" y="305" width="1" height="19" fill="#000"/>
<rect x="1288" y="312" width="5" height="3" fill="#000"/>
<rect x="1289" y="313" width="3" height="1" fill="#fff"/>
<rect x="1298" y="312" width="1" height="10" fill="#000"/>
<rect x="1296" y="315" width="5" height="7" fill="#000"/>
<rect x="1297" y="316" width="3" height="5" fill="#fff"/>
<rect x="1306" y="305" width="1" height="20" fill="#000"/>
<rect x="1304" y="309" width="5" height="3" fill="#000"/>
<rect x="1305" y="310" width="3" height="1" fill="#fff"/>
<rect x="1314" y="285" width="1" height="34" fill="#000"/>
<rect x="1312" y="309" width="5" height="3" fill="#000"/>
<rect x="1322" y="309" width="1" height="31" fill="#000"/>
<rect x="1320" y="311" width="5" height="26" fill="#000"/>
<rect x="1330" y="322" width="1" height="17" fill="#000"/>
<rect x="1328" y="324" width="5" height="12" fill="#000"/>
<rect x="1329" y="325" width="3" height="10" fill="#fff"/>
<rect x="1338" y="292" width="1" height="38" fill="#000"/>
<rect x="1336" y="297" width="5" height="29" fill="#000"/>
<rect x="1337" y="298" width="3" height="27" fill="#fff"/>
<rect x="1346" y="290" width="1" height="23" fill="#000"/>
<rect x="1344" y="296" width="5" height="17" fill="#000"/>
<rect x="1354" y="307" width="1" height="53" fill="#000"/>
<rect x="1352" y="310" width="5" height="47" fill="#000"/>
<rect x="1362" y="327" width="1" height="49" fill="#000"/>
<rect x="1360" y="348" width="5" height="10" fill="#000"/>
<rect x="1361" y="349" width="3" height="8" fill="#fff"/>
<rect x="1370" y="339" width="1" height="39" fill="#000"/>
<rect x="1368" y="348" width="5" height="29" fill="#000"/>
<rect x="1378" y="367" width="1" height="14" fill="#000"/>
<rect x="1376" y="375" width="5" height="4" fill="#000"/>
<rect x="1386" y="377" width="1" height="33" fill="#000"/>
<rect x="1384" y="378" width="5" height="22" fill="#000"/>
</g>
<rect x="1362" y="383" width="103" height="9" fill="#00ff00"/>
<rect x="1648" y="329" width="5" height="5" fill="#ff0000"/><rect x="1649" y="330" width="3" height="3" fill="#fff"/>
<rect x="1648" y="357" width="5" height="5" fill="#ff0000"/><rect x="1649" y="358" width="3" height="3" fill="#fff"/>
<rect x="1648" y="386" width="5" height="5" fill="#32cd32"/><rect x="1649" y="387" width="3" height="3" fill="#fff"/>
<rect x="1648" y="424" width="5" height="5" fill="#0000ff"/><rect x="1649" y="425" width="3" height="3" fill="#fff"/>
<rect x="1648" y="455" width="5" height="5" fill="#0000ff"/><rect x="1649" y="456" width="3" height="3" fill="#fff"/>
<rect x="2" y="647" width="1" height="65" fill="#c0c0c0"/>
<rect x="10" y="647" width="1" height="65" fill="#c0c0c0"/>
<rect x="18" y="647" width="1" height="63" fill="#c0c0c0"/>
<rect x="26" y="647" width="1" height="71" fill="#c0c0c0"/>
<rect x="34" y="647" width="1" height="76" fill="#c0c0c0"/>
<rect x="42" y="647" width="1" height="78" fill="#c0c0c0"/>
<rect x="50" y="647" width="1" height="73" fill="#c0c0c0"/>
<rect x="58" y="647" width="1" height="72" fill="#c0c0c0"/>
<rect x="66" y="647" width="1" height="69" fill="#c0c0c0"/>
<rect x="74" y="647" width="1" height="69" fill="#c0c0c0"/>
<rect x="82" y="647" width="1" height="60" fill="#c0c0c0"/>
<rect x="90" y="647" width="1" height="53" fill="#c0c0c0"/>
<rect x="98" y="647" width="1" height="46" fill="#c0c0c0"/>
<rect x="106" y="647" width="1" height="31" fill="#c0c0c0"/>
<rect x="114" y="647" width="1" height="20" fill="#c0c0c0"/>
<rect x="122" y="647" width="1" height="10" fill="#c0c0c0"/>
<rect x="130" y="647" width="1" height="5" fill="#c0c0c0"/>
<rect x="138" y="647" width="1" height="1" fill="#c0c0c0"/>
<rect x="146" y="647" width="1" height="1" fill="#c0c0c0"/>
<rect x="154" y="647" width="1" height="1" fill="#c0c0c0"/>
<rect x="162" y="646" width="1" height="2" fill="#c0c0c0"/>
<rect x="170" y="646" width="1" height="2" fill="#c0c0c0"/>
<rect x="178" y="647" width="1" height="2" fill="#c0c0c0"/>
<rect x="186" y="647" width="1" height="10" fill="#c0c0c0"/>
<rect x="194" y="647" width="1" height="16" fill="#c0c0c0"/>
<rect x="202" y="647" width="1" height="30" fill="#c0c0c0"/>
<rect x="210" y="647" width="1" height="32" fill="#c0c0c0"/>
<rect x="218" y="647" width="1" height="35" fill="#c0c0c0"/>
<rect x="226" y="647" width="1" height="37" fill="#c0c0c0"/>
<rect x="234" y="647" width="1" height="37" fill="#c0c0c0"/>
<rect x="242" y="647" width="1" height="34" fill="#c0c0c0"/>
<rect x="250" y="647" width="1" height="30" fill="#c0c0c0"/>
<rect x="258" y="647" width="1" height="27" fill="#c0c0c0"/>
<rect x="266" y="647" width="1" height="23" fill="#c0c0c0"/>
<rect x="274" y="647" width="1" height="20" fill="#c0c0c0"/>
<rect x="282" y="647" width="1" height="17" fill="#c0c0c0"/>
<rect x="290" y="647" width="1" height="13" fill="#c0c0c0"/>
<rect x="298" y="647" width="1" height="9" fill="#c0c0c0"/>
<rect x="306" y="647" width="1" height="17" fill="#c0c0c0"/>
<rect x="314" y="647" width="1" height="26" fill="#c0c0c0"/>
<rect x="322" y="647" width="1" height="32" fill="#c0c0c0"/>
<rect x="330" y="647" width="1" height="37" fill="#c0c0c0"/>
<rect x="338" y="647" width="1" height="48" fill="#c0c0c0"/>
<rect x="346" y="647" width="1" height="61" fill="#c0c0c0"/>
<rect x="354" y="647" width="1" height="66" fill="#c0c0c0"/>
<rect x="362" y="647" width="1" height="66" fill="#c0c0c0"/>
<rect x="370" y="647" width="1" height="69" fill="#c0c0c0"/>
<rect x="378" y="647" width="1" height="73" fill="#c0c0c0"/>
<rect x="386" y="647" width="1" height="84" fill="#c0c0c0"/>
<rect x="394" y="647" width="1" height="80" fill="#c0c0c0"/>
<rect x="402" y="647" width="1" height="77" fill="#c0c0c0"/>
<rect x="410" y="647" width="1" height="71" fill="#c0c0c0"/>
<rect x="418" y="647" width="1" height="63" fill="#c0c0c0"/>
<rect x="426" y="647" width="1" height="66" fill="#c0c0c0"/>
<rect x="434" y="647" width="1" height="76" fill="#c0c0c0"/>
<rect x="442" y="647" width="1" height="82" fill="#c0c0c0"/>
<rect x="450" y="647" width="1" height="75" fill="#c0c0c0"/>
<rect x="458" y="647" width="1" height="75" fill="#c0c0c0"/>
<rect x="466" y="647" width="1" height="74" fill="#c0c0c0"/>
<rect x="474" y="647" width="1" height="78" fill="#c0c0c0"/>
<rect x="482" y="647" width="1" height="82" fill="#c0c0c0"/>
<rect x="490" y="647" width="1" height="78" fill="#c0c0c0"/>
<rect x="498" y="647" width="1" height="79" fill="#c0c0c0"/>
<rect x="506" y="647" width="1" height="84" fill="#c0c0c0"/>
<rect x="514" y="647" width="1" height="91" fill="#c0c0c0"/>
<rect x="522" y="647" width="1" height="89" fill="#c0c0c0"/>
<rect x="530" y="647" width="1" height="78" fill="#c0c0c0"/>
<rect x="538" y="647" width="1" height="82" fill="#c0c0c0"/>
<rect x="546" y="647" width="1" height="81" fill="#c0c0c0"/>
<rect x="554" y="647" width="1" height="86" fill="#c0c0c0"/>
<rect x="562" y="647" width="1" height="79" fill="#c0c0c0"/>
<rect x="570" y="647" width="1" height="74" fill="#c0c0c0"/>
<rect x="578" y="647" width="1" height="71" fill="#c0c0c0"/>
<rect x="586" y="647" width="1" height="69" fill="#c0c0c0"/>
<rect x="594" y="647" width="1" height="59" fill="#c0c0c0"/>
<rect x="602" y="647" width="1" height="51" fill="#c0c0c0"/>
<rect x="610" y="647" width="1" height="46" fill="#c0c0c0"/>
<rect x="618" y="647" width="1" height="52" fill="#c0c0c0"/>
<rect x="626" y="647" width="1" height="49" fill="#c0c0c0"/>
<rect x="634" y="647" width="1" height="73" fill="#c0c0c0"/>
<rect x="642" y="647" width="1" height="82" fill="#c0c0c0"/>
<rect x="650" y="647" width="1" height="81" fill="#c0c0c0"/>
<rect x="658" y="647" width="1" height="88" fill="#c0c0c0"/>
<rect x="666" y="647" width="1" height="90" fill="#c0c0c0"/>
<rect x="674" y="647" width="1" height="92" fill="#c0c0c0"/>
<rect x="682" y="647" width="1" height="88" fill="#c0c0c0"/>
<rect x="690" y="647" width="1" height="92" fill="#c0c0c0"/>
<rect x="698" y="647" width="1" height="97" fill="#c0c0c0"/>
<rect x="706" y="647" width="1" height="92" fill="#c0c0c0"/>
<rect x="714" y="647" width="1" height="91" fill="#c0c0c0"/>
<rect x="722" y="647" width="1" height="82" fill="#c0c0c0"/>
<rect x="730" y="647" width="1" height="61" fill="#c0c0c0"/>
<rect x="738" y="647" width="1" height="49" fill="#c0c0c0"/>
<rect x="746" y="647" width="1" height="38" fill="#c0c0c0"/>
<rect x="754" y="647" width="1" height="25" fill="#c0c0c0"/>
<rect x="762" y="647" width="1" height="11" fill="#c0c0c0"/>
<rect x="770" y="646" width="1" height="2" fill="#c0c0c0"/>
<rect x="778" y="642" width="1" height="6" fill="#c0c0c0"/>
<rect x="786" y="638" width="1" height="10" fill="#c0c0c0"/>
<rect x="794" y="636" width="1" height="12" fill="#c0c0c0"/>
<rect x="802" y="635" width="1" height="13" fill="#c0c0c0"/>
<rect x="810" y="632" width="1" height="16" fill="#c0c0c0"/>
<rect x="818" y="625" width="1" height="23" fill="#c0c0c0"/>
<rect x="826" y="614" width="1" height="34" fill="#c0c0c0"/>
<rect x="834" y="605" width="1" height="43" fill="#c0c0c0"/>
<rect x="842" y="601" width="1" height="47" fill="#c0c0c0"/>
<rect x="850" y="599" width="1" height="49" fill="#c0c0c0"/>
<rect x="858" y="596" width="1" height="52" fill="#c0c0c0"/>
<rect x="866" y="602" width="1" height="46" fill="#c0c0c0"/>
<rect x="874" y="608" width="1" height="40" fill="#c0c0c0"/>
<rect x="882" y="613" width="1" height="35" fill="#c0c0c0"/>
<rect x="890" y="620" width="1" height="28" fill="#c0c0c0"/>
<rect x="898" y="626" width="1" height="22" fill="#c0c0c0"/>
<rect x="906" y="634" width="1" height="14" fill="#c0c0c0"/>
<rect x="914" y="637" width="1" height="11" fill="#c0c0c0"/>
<rect x="922" y="635" width="1" height="13" fill="#c0c0c0"/>
<rect x="930" y="635" width="1" height="13" fill="#c0c0c0"/>
<rect x="938" y="634" width="1" height="14" fill="#c0c0c0"/>
<rect x="946" y="630" width="1" height="18" fill="#c0c0c0"/>
<rect x="954" y="626" width="1" height="22" fill="#c0c0c0"/>
<rect x="962" y="627" width="1" height="21" fill="#c0c0c0"/>
<rect x="970" y="632" width="1" height="16" fill="#c0c0c0"/>
<rect x="978" y="634" width="1" height="14" fill="#c0c0c0"/>
<rect x="986" y="633" width="1" height="15" fill="#c0c0c0"/>
<rect x="994" y="634" width="1" height="14" fill="#c0c0c0"/>
<rect x="1002" y="635" width="1" height="13" fill="#c0c0c0"/>
<rect x="1010" y="635" width="1" height="13" fill="#c0c0c0"/>
<rect x="1018" y="634" width="1" height="14" fill="#c0c0c0"/>
<rect x="1026" y="635" width="1" height="13" fill="#c0c0c0"/>
<rect x="1034" y="637" width="1" height="11" fill="#c0c0c0"/>
<rect x="1042" y="634" width="1" height="14" fill="#c0c0c0"/>
<rect x="1050" y="631" width="1" height="17" fill="#c0c0c0"/>
<rect x="1058" y="627" width="1" height="21" fill="#c0c0c0"/>
<rect x="1066" y="620" width="1" height="28" fill="#c0c0c0"/>
<rect x="1074" y="615" width="1" height="33" fill="#c0c0c0"/>
<rect x="1082" y="610" width="1" height="38" fill="#c0c0c0"/>
<rect x="1090" y="604" width="1" height="44" fill="#c0c0c0"/>
<rect x="1098" y="598" width="1" height="50" fill="#c0c0c0"/>
<rect x="1106" y="592" width="1" height="56" fill="#c0c0c0"/>
<rect x="1114" y="594" width="1" height="54" fill="#c0c0c0"/>
<rect x="1122" y="594" width="1" height="54" fill="#c0c0c0"/>
<rect x="1130" y="598" width="1" height="50" fill="#c0c0c0"/>
<rect x="1138" y="606" width="1" height="42" fill="#c0c0c0"/>
<rect x="1146" y="615" width="1" height="33" fill="#c0c0c0"/>
<rect x="1154" y="625" width="1" height="23" fill="#c0c0c0"/>
<rect x="1162" y="635" width="1" height="13" fill="#c0c0c0"/>
<rect x="1170" y="642" width="1" height="6" fill="#c0c0c0"/>
<rect x="1178" y="644" width="1" height="4" fill="#c0c0c0"/>
<rect x="1186" y="647" width="1" height="9" fill="#c0c0c0"/>
<rect x="1194" y="647" width="1" height="22" fill="#c0c0c0"/>
<rect x="1202" y="647" width="1" height="28" fill="#c0c0c0"/>
<rect x="1210" y="647" width="1" height="31" fill="#c0c0c0"/>
<rect x="1218" y="647" width="1" height="38" fill="#c0c0c0"/>
<rect x="1226" y="647" width="1" height="38" fill="#c0c0c0"/>
<rect x="1234" y="647" width="1" height="43" fill="#c0c0c0"/>
<rect x="1242" y="647" width="1" height="42" fill="#c0c0c0"/>
<rect x="1250" y="647" width="1" height="40" fill="#c0c0c0"/>
<rect x="1258" y="647" width="1" height="42" fill="#c0c0c0"/>
<rect x="1266" y="647" width="1" height="36" fill="#c0c0c0"/>
<rect x="1274" y="647" width="1" height="28" fill="#c0c0c0"/>
<rect x="1282" y="647" width="1" height="19" fill="#c0c0c0"/>
<rect x="1290" y="647" width="1" height="10" fill="#c0c0c0"/>
<rect x="1298" y="647" width="1" height="4" fill="#c0c0c0"/>
<rect x="1306" y="647" width="1" height="1" fill="#c0c0c0"/>
<rect x="1314" y="642" width="1" height="6" fill="#c0c0c0"/>
<rect x="1322" y="643" width="1" height="5" fill="#c0c0c0"/>
<rect x="1330" y="642" width="1" height="6" fill="#c0c0c0"/>
<rect x="1338" y="637" width="1" height="11" fill="#c0c0c0"/>
<rect x="1346" y="635" width="1" height="13" fill="#c0c0c0"/>
<rect x="1354" y="641" width="1" height="7" fill="#c0c0c0"/>
<rect x="1362" y="645" width="1" height="3" fill="#c0c0c0"/>
<rect x="1370" y="647" width="1" height="5" fill="#c0c0c0"/>
<rect x="1378" y="647" width="1" height="11" fill="#c0c0c0"/>
<rect x="1386" y="647" width="1" height="19" fill="#c0c0c0"/>
<path d="M887 606h3v1h-3zM893 606h3v1h-3zM1163 606h2v1h-2zM1360 642h2v1h-2zM1365 642h3v1h-3zM942 627h2v1h-2zM1079 627h3v1h-3zM498 726h3v1h-3zM504 726h3v1h-3zM684 726h2v1h-2zM414 719h3v1h-3zM420 719h3v1h-3zM426 719h2v1h-2zM438 722h3v1h-3zM444 722h3v1h-3zM450 722h3v1h-3zM480 722h2v1h-2zM54 716h3v1h-3zM90 716h2v1h-2zM402 716h3v1h-3zM666 716h2v1h-2zM625 709h2v1h-2zM630 709h3v1h-3zM636 709h3v1h-3zM642 709h3v1h-3zM510 727h3v1h-3zM534 730h3v1h-3zM540 730h3v1h-3zM546 730h3v1h-3zM552 730h3v1h-3zM558 730h3v1h-3zM564 730h3v1h-3zM570 730h3v1h-3zM691 730h2v1h-2zM18 701h2v1h-2zM378 701h2v1h-2zM432 721h3v1h-3zM457 721h2v1h-2zM462 721h3v1h-3zM468 721h3v1h-3zM474 721h3v1h-3zM600 721h2v1h-2zM307 668h2v1h-2zM318 668h3v1h-3zM324 668h2v1h-2zM258 678h2v1h-2zM270 678h3v1h-3zM1293 678h3v1h-3zM833 631h2v1h-2zM954 631h2v1h-2zM959 631h3v1h-3zM965 631h3v1h-3zM971 631h3v1h-3zM977 631h3v1h-3zM983 631h3v1h-3zM1007 631h3v1h-3zM1013 631h3v1h-3zM1067 631h2v1h-2zM851 618h2v1h-2zM1098 618h2v1h-2zM924 619h2v1h-2zM486 724h3v1h-3zM264 679h3v1h-3zM175 652h2v1h-2zM193 652h2v1h-2zM198 652h3v1h-3zM703 736h2v1h-2zM726 736h3v1h-3zM516 728h3v1h-3zM582 728h3v1h-3zM228 666h2v1h-2zM1037 634h3v1h-3zM1049 634h3v1h-3zM708 737h3v1h-3zM714 737h3v1h-3zM720 737h3v1h-3zM696 733h2v1h-2zM661 714h2v1h-2zM1257 683h3v1h-3zM1282 683h2v1h-2zM911 613h2v1h-2zM881 607h3v1h-3zM935 624h2v1h-2zM294 672h2v1h-2zM336 672h2v1h-2zM1306 672h2v1h-2zM60 717h3v1h-3zM66 717h3v1h-3zM84 717h3v1h-3zM1251 680h2v1h-2zM1288 680h2v1h-2zM869 610h3v1h-3zM905 610h2v1h-2zM1170 610h2v1h-2zM948 629h2v1h-2zM1073 629h3v1h-3zM673 720h2v1h-2zM1134 601h2v1h-2zM1139 601h3v1h-3zM1145 601h3v1h-3zM216 660h2v1h-2zM1324 660h2v1h-2zM1043 635h3v1h-3zM810 650h2v1h-2zM1341 650h2v1h-2zM210 657h2v1h-2zM1329 657h2v1h-2zM1270 686h2v1h-2zM1275 686h2v1h-2zM342 675h2v1h-2zM1151 602h3v1h-3zM156 664h2v1h-2zM1227 664h2v1h-2zM594 723h3v1h-3zM678 723h2v1h-2zM1019 632h3v1h-3zM1061 632h3v1h-3zM1221 659h2v1h-2zM875 608h3v1h-3zM900 608h2v1h-2zM1115 608h2v1h-2zM49 715h2v1h-2zM613 715h2v1h-2zM288 674h2v1h-2zM241 673h2v1h-2zM1239 673h2v1h-2zM72 718h3v1h-3zM78 718h3v1h-3zM408 718h3v1h-3zM607 718h2v1h-2zM1026 633h2v1h-2zM1031 633h3v1h-3zM1055 633h3v1h-3zM43 713h2v1h-2zM97 713h2v1h-2zM396 713h2v1h-2zM990 630h2v1h-2zM995 630h3v1h-3zM1001 630h3v1h-3zM234 669h2v1h-2zM330 669h2v1h-2zM1233 669h2v1h-2zM312 667h3v1h-3zM1264 685h2v1h-2zM1354 643h2v1h-2zM1372 643h2v1h-2zM1377 643h3v1h-3zM169 655h2v1h-2zM1336 653h2v1h-2zM619 712h2v1h-2zM654 712h3v1h-3zM181 651h2v1h-2zM186 651h3v1h-3zM1348 646h2v1h-2zM1384 646h2v1h-2zM252 677h2v1h-2zM277 677h2v1h-2zM1246 677h2v1h-2zM1 690h2v1h-2zM222 663h2v1h-2zM732 734h2v1h-2zM522 729h3v1h-3zM528 729h3v1h-3zM576 729h3v1h-3zM36 710h2v1h-2zM103 710h2v1h-2zM391 710h2v1h-2zM492 725h3v1h-3zM589 725h2v1h-2zM1127 603h3v1h-3zM1157 603h2v1h-2zM204 654h2v1h-2zM30 707h2v1h-2zM247 676h2v1h-2zM282 676h2v1h-2zM1300 676h2v1h-2zM1085 625h2v1h-2zM1109 611h2v1h-2zM930 622h2v1h-2zM1091 622h2v1h-2zM649 711h2v1h-2zM917 616h2v1h-2zM384 705h2v1h-2zM857 615h2v1h-2zM1103 615h2v1h-2zM840 626h2v1h-2zM300 670h3v1h-3zM864 612h2v1h-2zM109 706h2v1h-2zM361 688h2v1h-2zM1122 605h2v1h-2zM24 704h2v1h-2zM764 707h1v1h-1zM260 679h1v1h-1zM1331 656h1v1h-1zM13 698h1v1h-1zM96 714h1v1h-1zM122 696h1v1h-1zM776 689h1v2h-1zM1323 661h1v1h-1zM254 678h1v1h-1zM390 709h1v1h-1zM762 709h1v1h-1zM788 673h1v1h-1zM937 625h1v1h-1zM1305 673h1v1h-1zM771 696h1v2h-1zM772 695h1v1h-1zM367 692h1v1h-1zM332 670h1v1h-1zM1087 624h1v1h-1zM116 701h1v1h-1zM784 678h1v2h-1zM290 673h1v1h-1zM150 669h1v1h-1zM306 669h1v1h-1zM899 607h1v1h-1zM1105 614h1v1h-1zM907 611h1v1h-1zM121 697h1v1h-1zM8 695h1v1h-1zM348 678h1v1h-1zM368 693h1v1h-1zM1097 619h1v1h-1zM114 703h1v1h-1zM740 729h1v1h-1zM680 724h1v1h-1zM120 698h1v1h-1zM746 724h1v1h-1zM1205 643h1v1h-1zM745 725h1v1h-1zM1069 630h1v1h-1zM38 711h1v1h-1zM349 679h1v1h-1zM1281 684h1v1h-1zM798 660h1v2h-1zM588 726h1v1h-1zM744 726h1v1h-1zM1287 681h1v1h-1zM1347 647h1v1h-1zM750 721h1v1h-1zM356 684h1v1h-1zM794 665h1v2h-1zM739 730h1v1h-1zM1269 685h1v1h-1zM48 714h1v1h-1zM835 630h1v1h-1zM138 681h1v1h-1zM1182 619h1v1h-1zM767 702h1v2h-1zM1175 613h1v1h-1zM350 680h1v1h-1zM793 667h1v1h-1zM738 731h1v1h-1zM218 661h1v1h-1zM919 617h1v1h-1zM839 627h1v1h-1zM789 672h1v1h-1zM929 621h1v1h-1zM1169 609h1v1h-1zM775 691h1v1h-1zM1203 641h1v1h-1zM698 734h1v1h-1zM1204 642h1v1h-1zM1318 664h1v1h-1zM785 677h1v1h-1zM1319 663h1v1h-1zM829 634h1v1h-1zM859 614h1v1h-1zM1253 681h1v1h-1zM602 720h1v1h-1zM428 720h1v1h-1zM354 682h1v1h-1zM1317 665h1v1h-1zM752 719h1v1h-1zM828 635h1v1h-1zM128 690h1v1h-1zM206 655h1v1h-1zM1177 615h1v1h-1zM817 644h1v1h-1zM164 658h1v1h-1zM284 675h1v1h-1zM1093 621h1v1h-1zM1165 607h1v1h-1zM1133 602h1v1h-1zM126 692h1v1h-1zM751 720h1v1h-1zM127 691h1v1h-1zM1312 668h1v1h-1zM758 713h1v1h-1zM174 653h1v1h-1zM799 659h1v1h-1zM815 646h1v1h-1zM1210 648h1v1h-1zM805 654h1v1h-1zM482 723h1v1h-1zM355 683h1v1h-1zM373 697h1v1h-1zM1223 660h1v1h-1zM158 663h1v1h-1zM456 722h1v1h-1zM1200 637h1v1h-1zM163 659h1v1h-1zM757 714h1v1h-1zM686 727h1v1h-1zM246 675h1v1h-1zM1343 649h1v1h-1zM803 656h1v1h-1zM672 719h1v1h-1zM1335 654h1v1h-1zM1025 632h1v1h-1zM1353 644h1v1h-1zM1241 674h1v1h-1zM145 674h1v1h-1zM941 626h1v1h-1zM146 673h1v1h-1zM768 701h1v1h-1zM734 733h1v1h-1zM374 698h1v1h-1zM108 707h1v1h-1zM32 708h1v1h-1zM1217 655h1v1h-1zM144 675h1v1h-1zM276 678h1v1h-1zM151 668h1v1h-1zM781 683h1v1h-1zM1176 614h1v1h-1zM953 630h1v1h-1zM1187 623h1v1h-1zM690 729h1v1h-1zM668 717h1v1h-1zM779 685h1v1h-1zM660 713h1v1h-1zM1209 647h1v1h-1zM180 652h1v1h-1zM1117 607h1v1h-1zM823 639h1v1h-1zM1371 642h1v1h-1zM1198 635h1v1h-1zM42 712h1v1h-1zM846 622h1v1h-1zM847 621h1v1h-1zM133 686h1v1h-1zM1313 667h1v1h-1zM134 685h1v1h-1zM816 645h1v1h-1zM1188 624h1v1h-1zM822 640h1v1h-1zM1359 643h1v1h-1zM1199 636h1v1h-1zM20 702h1v1h-1zM1193 629h1v1h-1zM845 623h1v1h-1zM1263 684h1v1h-1zM372 696h1v1h-1zM863 613h1v1h-1zM92 715h1v1h-1zM338 673h1v1h-1zM230 667h1v1h-1zM804 655h1v1h-1zM1189 625h1v1h-1zM1215 653h1v1h-1zM821 641h1v1h-1zM947 628h1v1h-1zM6 693h1v1h-1zM26 705h1v1h-1zM162 660h1v1h-1zM1216 654h1v1h-1zM1195 631h1v1h-1zM398 714h1v1h-1zM1211 649h1v1h-1zM606 719h1v1h-1zM702 735h1v1h-1zM809 651h1v1h-1zM923 618h1v1h-1zM236 670h1v1h-1zM612 716h1v1h-1zM386 706h1v1h-1zM380 702h1v1h-1zM1235 670h1v1h-1zM360 687h1v1h-1zM1277 685h1v1h-1zM0 689h1v1h-1zM152 667h1v1h-1zM1111 610h1v1h-1zM7 694h1v1h-1zM1159 604h1v1h-1zM780 684h1v1h-1zM192 651h1v1h-1zM132 687h1v1h-1zM14 699h1v1h-1zM102 711h1v1h-1zM618 713h1v1h-1zM168 656h1v1h-1zM240 672h1v1h-1zM1229 665h1v1h-1zM296 671h1v1h-1zM224 664h1v1h-1zM624 710h1v1h-1zM115 702h1v1h-1zM326 669h1v1h-1zM140 679h1v1h-1zM827 636h1v1h-1zM648 710h1v1h-1zM913 614h1v1h-1zM989 631h1v1h-1zM1299 677h1v1h-1zM1181 618h1v1h-1zM212 658h1v1h-1zM1245 676h1v1h-1zM1121 606h1v1h-1zM139 680h1v1h-1zM790 671h1v1h-1zM1194 630h1v1h-1zM1311 669h1v1h-1zM344 676h1v1h-1zM853 617h1v1h-1zM12 697h1v1h-1zM366 691h1v1h-1zM1183 620h1v1h-1zM1383 645h1v1h-1zM756 715h1v1h-1zM763 708h1v1h-1z" fill="#ff0000"/>
<line x1="0" y1="790.5" x2="1653" y2="790.5" stroke="#c0c0c0" stroke-width="1" stroke-dasharray="3 3"/>
<line x1="0" y1="841.5" x2="1653" y2="841.5" stroke="#c0c0c0" stroke-width="1" stroke-dasharray="3 3"/>
<line x1="0" y1="902.5" x2="1653" y2="902.5" stroke="#c0c0c0" stroke-width="1" stroke-dasharray="3 3"/>
<path d="M5 871h2v1h-2zM377 871h2v1h-2zM436 871h4v1h-4zM634 871h2v1h-2zM1193 871h2v1h-2zM167 838h2v1h-2zM289 838h3v1h-3zM747 838h2v1h-2zM778 838h26v1h-26zM866 838h10v1h-10zM992 838h6v1h-6zM1004 838h2v1h-2zM1024 838h4v1h-4zM1273 838h2v1h-2zM96 844h3v1h-3zM256 844h6v1h-6zM603 844h2v1h-2zM889 844h5v1h-5zM972 844h4v1h-4zM55 862h2v1h-2zM60 862h2v1h-2zM472 862h2v1h-2zM499 862h2v1h-2zM552 862h2v1h-2zM697 862h2v1h-2zM1214 862h2v1h-2zM210 854h3v1h-3zM229 854h2v1h-2zM454 854h2v1h-2zM582 854h5v1h-5zM680 854h2v1h-2zM683 854h2v1h-2zM710 854h3v1h-3zM1155 854h2v1h-2zM165 839h2v1h-2zM287 839h2v1h-2zM744 839h3v1h-3zM876 839h2v1h-2zM918 839h2v1h-2zM998 839h6v1h-6zM1028 839h2v1h-2zM1271 839h2v1h-2zM1328 839h2v1h-2zM32 878h4v1h-4zM1089 807h2v1h-2zM158 843h2v1h-2zM262 843h8v1h-8zM594 843h9v1h-9zM886 843h3v1h-3zM970 843h2v1h-2zM-4 874h4v1h-4zM113 832h2v1h-2zM758 832h3v1h-3zM942 832h2v1h-2zM1286 832h8v1h-8zM1300 832h4v1h-4zM1308 832h4v1h-4zM1341 832h2v1h-2zM111 831h2v1h-2zM115 831h2v1h-2zM761 831h5v1h-5zM816 831h2v1h-2zM1042 831h2v1h-2zM1304 831h4v1h-4zM1339 831h2v1h-2zM130 836h4v1h-4zM140 836h4v1h-4zM296 836h3v1h-3zM750 836h2v1h-2zM808 836h3v1h-3zM922 836h4v1h-4zM934 836h5v1h-5zM986 836h2v1h-2zM1009 836h11v1h-11zM144 837h3v1h-3zM169 837h2v1h-2zM292 837h4v1h-4zM732 837h2v1h-2zM804 837h4v1h-4zM926 837h8v1h-8zM988 837h4v1h-4zM1006 837h3v1h-3zM1020 837h4v1h-4zM1275 837h2v1h-2zM846 826h6v1h-6zM12 867h2v1h-2zM316 867h4v1h-4zM369 867h2v1h-2zM215 856h2v1h-2zM222 856h5v1h-5zM394 856h9v1h-9zM458 856h2v1h-2zM686 856h2v1h-2zM1158 856h2v1h-2zM1372 856h4v1h-4zM192 859h3v1h-3zM467 859h2v1h-2zM538 859h4v1h-4zM547 859h2v1h-2zM660 859h2v1h-2zM691 859h2v1h-2zM1202 859h4v1h-4zM1230 859h2v1h-2zM1381 859h2v1h-2zM188 858h4v1h-4zM464 858h3v1h-3zM542 858h5v1h-5zM662 858h3v1h-3zM670 858h5v1h-5zM1162 858h9v1h-9zM1206 858h5v1h-5zM1379 858h2v1h-2zM186 857h2v1h-2zM217 857h5v1h-5zM460 857h4v1h-4zM492 857h2v1h-2zM654 857h2v1h-2zM665 857h5v1h-5zM675 857h2v1h-2zM688 857h2v1h-2zM1160 857h2v1h-2zM1376 857h3v1h-3zM320 868h11v1h-11zM371 868h2v1h-2zM510 868h2v1h-2zM1187 868h2v1h-2zM50 860h3v1h-3zM65 860h2v1h-2zM496 860h2v1h-2zM658 860h2v1h-2zM693 860h2v1h-2zM1383 860h2v1h-2zM283 841h2v1h-2zM738 841h2v1h-2zM881 841h3v1h-3zM1033 841h2v1h-2zM1267 841h2v1h-2zM756 833h2v1h-2zM1282 833h4v1h-4zM1294 833h6v1h-6zM1312 833h3v1h-3zM1343 833h2v1h-2zM160 842h2v1h-2zM270 842h13v1h-13zM884 842h2v1h-2zM1323 842h2v1h-2zM241 848h3v1h-3zM417 848h2v1h-2zM1358 848h5v1h-5zM121 828h2v1h-2zM950 828h5v1h-5zM1049 828h2v1h-2zM106 829h3v1h-3zM119 829h2v1h-2zM946 829h4v1h-4zM1046 829h3v1h-3zM57 863h3v1h-3zM474 863h2v1h-2zM501 863h2v1h-2zM109 830h2v1h-2zM117 830h2v1h-2zM766 830h5v1h-5zM1044 830h2v1h-2zM213 855h2v1h-2zM227 855h2v1h-2zM403 855h2v1h-2zM456 855h2v1h-2zM678 855h2v1h-2zM713 855h2v1h-2zM1370 855h2v1h-2zM244 847h4v1h-4zM609 847h2v1h-2zM900 847h2v1h-2zM231 853h2v1h-2zM406 853h2v1h-2zM576 853h6v1h-6zM708 853h2v1h-2zM1153 853h2v1h-2zM1242 853h2v1h-2zM308 865h4v1h-4zM365 865h2v1h-2zM478 865h3v1h-3zM505 865h2v1h-2zM1081 811h2v1h-2zM830 820h5v1h-5zM1121 820h2v1h-2zM237 850h2v1h-2zM412 850h2v1h-2zM564 850h4v1h-4zM904 850h2v1h-2zM1147 850h2v1h-2zM1249 850h2v1h-2zM1076 813h2v1h-2zM233 852h2v1h-2zM408 852h2v1h-2zM450 852h3v1h-3zM572 852h4v1h-4zM706 852h2v1h-2zM1151 852h2v1h-2zM1244 852h2v1h-2zM1366 852h2v1h-2zM73 866h2v1h-2zM312 866h4v1h-4zM367 866h2v1h-2zM481 866h2v1h-2zM507 866h2v1h-2zM134 835h6v1h-6zM752 835h2v1h-2zM1278 835h2v1h-2zM163 840h2v1h-2zM285 840h2v1h-2zM736 840h2v1h-2zM740 840h4v1h-4zM878 840h3v1h-3zM966 840h2v1h-2zM1030 840h3v1h-3zM1269 840h2v1h-2zM1326 840h2v1h-2zM754 834h2v1h-2zM812 834h2v1h-2zM1280 834h2v1h-2zM1345 834h2v1h-2zM53 861h2v1h-2zM62 861h3v1h-3zM470 861h2v1h-2zM550 861h2v1h-2zM695 861h2v1h-2zM1385 861h2v1h-2zM82 846h10v1h-10zM248 846h4v1h-4zM607 846h2v1h-2zM1177 846h2v1h-2zM36 877h4v1h-4zM1078 812h3v1h-3zM826 821h4v1h-4zM835 821h2v1h-2zM1118 821h3v1h-3zM16 864h3v1h-3zM70 864h2v1h-2zM306 864h2v1h-2zM363 864h2v1h-2zM476 864h2v1h-2zM503 864h2v1h-2zM1097 803h3v1h-3zM235 851h2v1h-2zM410 851h2v1h-2zM568 851h4v1h-4zM718 851h2v1h-2zM1149 851h2v1h-2zM1246 851h3v1h-3zM92 845h4v1h-4zM155 845h2v1h-2zM252 845h4v1h-4zM605 845h2v1h-2zM894 845h5v1h-5zM976 845h3v1h-3zM838 823h2v1h-2zM1114 823h2v1h-2zM7 870h2v1h-2zM201 870h2v1h-2zM375 870h2v1h-2zM440 870h3v1h-3zM1191 870h2v1h-2zM40 876h3v1h-3zM28 879h4v1h-4zM385 882h2v1h-2zM239 849h2v1h-2zM414 849h3v1h-3zM562 849h2v1h-2zM625 849h2v1h-2zM1354 849h4v1h-4zM1083 810h2v1h-2zM842 825h4v1h-4zM852 825h4v1h-4zM1054 825h2v1h-2zM1116 822h2v1h-2zM26 880h2v1h-2zM0 873h3v1h-3zM9 869h2v1h-2zM373 869h2v1h-2zM512 869h2v1h-2zM1189 869h2v1h-2zM1087 808h2v1h-2zM840 824h2v1h-2zM856 824h3v1h-3zM1056 824h2v1h-2zM1085 809h2v1h-2zM3 872h2v1h-2zM434 872h2v1h-2zM1095 804h2v1h-2zM-6 875h2v1h-2zM1068 815h4v1h-4zM1104 801h3v1h-3zM1066 816h2v1h-2zM1072 814h4v1h-4zM1051 827h2v1h-2zM1062 819h2v1h-2zM1100 802h4v1h-4zM1093 805h2v1h-2zM1091 806h2v1h-2zM355 871h1v1h-1zM1172 854h1v2h-1zM983 839h1v1h-1zM305 859h1v4h-1zM941 833h1v1h-1zM388 875h1v3h-1zM724 844h1v2h-1zM1351 843h1v2h-1zM914 843h1v1h-1zM336 875h1v2h-1zM1183 858h1v3h-1zM945 830h1v1h-1zM1112 817h1v2h-1zM495 859h1v1h-1zM613 851h1v1h-1zM1176 848h1v2h-1zM202 871h1v1h-1zM1195 869h1v2h-1zM811 835h1v1h-1zM47 865h1v2h-1zM351 877h1v2h-1zM299 838h1v4h-1zM614 852h1v2h-1zM343 883h1v1h-1zM815 832h1v1h-1zM105 830h1v2h-1zM469 860h1v1h-1zM207 859h1v2h-1zM419 849h1v2h-1zM587 852h1v2h-1zM628 853h1v3h-1zM302 849h1v3h-1zM1142 844h1v2h-1zM1040 833h1v2h-1zM389 872h1v3h-1zM358 867h1v2h-1zM420 851h1v1h-1zM1316 835h1v2h-1zM335 874h1v1h-1zM484 863h1v1h-1zM423 855h1v2h-1zM487 859h1v1h-1zM347 884h1v2h-1zM43 873h1v2h-1zM393 858h1v4h-1zM445 862h1v3h-1zM1336 832h1v1h-1zM1229 858h1v1h-1zM1240 855h1v1h-1zM1179 847h1v3h-1zM1108 806h1v2h-1zM123 829h1v1h-1zM1232 860h1v1h-1zM1035 840h1v1h-1zM206 861h1v3h-1zM776 836h1v1h-1zM1130 830h1v1h-1zM1058 823h1v1h-1zM124 830h1v1h-1zM522 858h1v1h-1zM556 859h1v2h-1zM1350 841h1v2h-1zM525 853h1v2h-1zM450 851h1v1h-1zM956 830h1v1h-1zM777 837h1v1h-1zM1131 831h1v1h-1zM20 867h1v2h-1zM617 856h1v2h-1zM636 869h1v2h-1zM1225 856h1v1h-1zM822 825h1v2h-1zM150 841h1v2h-1zM621 854h1v1h-1zM1220 862h1v2h-1zM590 848h1v2h-1zM100 840h1v2h-1zM1347 835h1v2h-1zM560 852h1v2h-1zM1262 850h1v2h-1zM529 847h1v2h-1zM716 853h1v1h-1zM909 848h1v1h-1zM449 853h1v2h-1zM963 837h1v1h-1zM179 850h1v1h-1zM1141 843h1v1h-1zM819 829h1v1h-1zM491 856h1v1h-1zM700 859h1v2h-1zM651 854h1v1h-1zM180 851h1v1h-1zM1266 842h1v2h-1zM955 829h1v1h-1zM727 840h1v1h-1zM1065 817h1v1h-1zM631 862h1v3h-1zM1175 850h1v1h-1zM861 829h1v2h-1zM49 861h1v2h-1zM392 862h1v3h-1zM104 832h1v2h-1zM624 850h1v2h-1zM1111 814h1v3h-1zM19 865h1v2h-1zM962 836h1v1h-1zM616 855h1v1h-1zM81 848h1v2h-1zM734 838h1v1h-1zM639 866h1v1h-1zM723 846h1v2h-1zM1331 837h1v1h-1zM1171 856h1v2h-1zM201 869h1v1h-1zM157 844h1v1h-1zM357 869h1v1h-1zM149 840h1v1h-1zM483 864h1v2h-1zM387 878h1v4h-1zM735 839h1v1h-1zM650 853h1v1h-1zM1180 850h1v2h-1zM1228 857h1v1h-1zM916 841h1v1h-1zM391 865h1v3h-1zM634 872h1v1h-1zM627 850h1v3h-1zM301 845h1v4h-1zM80 850h1v3h-1zM521 859h1v2h-1zM647 856h1v1h-1zM1320 840h1v2h-1zM304 856h1v3h-1zM1353 847h1v2h-1zM338 878h1v1h-1zM1185 863h1v3h-1zM99 842h1v2h-1zM1133 834h1v1h-1zM642 862h1v1h-1zM559 854h1v2h-1zM300 842h1v3h-1zM528 849h1v1h-1zM360 865h1v1h-1zM1349 839h1v2h-1zM1368 853h1v1h-1zM677 856h1v1h-1zM486 860h1v2h-1zM593 844h1v2h-1zM18 863h1v1h-1zM1338 830h1v1h-1zM1201 860h1v2h-1zM1140 842h1v1h-1zM1182 855h1v3h-1zM699 861h1v1h-1zM985 837h1v1h-1zM837 822h1v1h-1zM345 885h1v1h-1zM1254 854h1v1h-1zM920 838h1v1h-1zM421 852h1v2h-1zM555 861h1v2h-1zM422 854h1v1h-1zM337 877h1v1h-1zM913 844h1v1h-1zM205 864h1v2h-1zM1239 856h1v1h-1zM980 843h1v1h-1zM1261 852h1v2h-1zM1216 863h1v1h-1zM76 861h1v3h-1zM1107 803h1v3h-1zM772 832h1v1h-1zM46 867h1v2h-1zM509 867h1v1h-1zM623 852h1v1h-1zM730 835h1v1h-1zM208 857h1v2h-1zM532 849h1v2h-1zM1319 839h1v1h-1zM1132 832h1v2h-1zM1234 862h1v1h-1zM448 855h1v2h-1zM1352 845h1v2h-1zM657 859h1v1h-1zM589 850h1v1h-1zM344 884h1v1h-1zM630 859h1v3h-1zM126 832h1v1h-1zM821 827h1v1h-1zM390 868h1v4h-1zM1219 864h1v1h-1zM151 843h1v1h-1zM726 841h1v2h-1zM1253 853h1v1h-1zM152 844h1v1h-1zM1110 811h1v3h-1zM425 858h1v2h-1zM1265 844h1v2h-1zM1174 851h1v2h-1zM1318 838h1v1h-1zM103 834h1v2h-1zM1143 846h1v1h-1zM1037 837h1v1h-1zM429 864h1v2h-1zM524 855h1v1h-1zM968 841h1v1h-1zM72 865h1v1h-1zM443 867h1v2h-1zM1333 835h1v1h-1zM1364 850h1v1h-1zM379 872h1v2h-1zM1106 802h1v1h-1zM653 856h1v1h-1zM182 853h1v1h-1zM1125 824h1v1h-1zM957 831h1v1h-1zM592 846h1v1h-1zM969 842h1v1h-1zM863 832h1v2h-1zM656 858h1v1h-1zM1178 845h1v1h-1zM824 823h1v1h-1zM79 853h1v3h-1zM1348 837h1v2h-1zM958 832h1v1h-1zM125 831h1v1h-1zM1222 860h1v1h-1zM911 846h1v1h-1zM489 856h1v2h-1zM859 825h1v2h-1zM394 857h1v1h-1zM618 858h1v1h-1zM629 856h1v3h-1zM908 849h1v1h-1zM303 852h1v4h-1zM649 854h1v1h-1zM702 857h1v1h-1zM197 863h1v2h-1zM705 853h1v1h-1zM1060 821h1v1h-1zM1260 854h1v2h-1zM171 838h1v2h-1zM1363 849h1v1h-1zM515 868h1v2h-1zM1199 863h1v2h-1zM181 852h1v1h-1zM1064 818h1v1h-1zM729 836h1v2h-1zM447 857h1v3h-1zM424 857h1v1h-1zM644 860h1v1h-1zM527 850h1v2h-1zM633 868h1v3h-1zM626 848h1v1h-1zM428 863h1v1h-1zM1124 822h1v2h-1zM1321 842h1v1h-1zM1330 838h1v1h-1zM862 831h1v1h-1zM356 870h1v1h-1zM611 848h1v2h-1zM340 880h1v1h-1zM204 866h1v2h-1zM1264 846h1v2h-1zM1241 854h1v1h-1zM1211 859h1v1h-1zM720 850h1v1h-1zM102 836h1v2h-1zM964 838h1v1h-1zM427 861h1v2h-1zM523 856h1v2h-1zM442 869h1v1h-1zM652 855h1v1h-1zM518 864h1v1h-1zM431 867h1v2h-1zM1177 847h1v1h-1zM632 865h1v3h-1zM78 856h1v2h-1zM549 860h1v1h-1zM865 836h1v2h-1zM362 863h1v1h-1zM381 875h1v2h-1zM339 879h1v1h-1zM531 847h1v2h-1zM382 877h1v1h-1zM774 834h1v1h-1zM1337 831h1v1h-1zM1259 856h1v2h-1zM1134 835h1v1h-1zM359 866h1v1h-1zM690 858h1v1h-1zM1198 865h1v1h-1zM298 837h1v1h-1zM1135 836h1v1h-1zM915 842h1v1h-1zM982 840h1v2h-1zM903 849h1v1h-1zM67 861h1v1h-1zM173 841h1v2h-1zM906 851h1v1h-1zM979 844h1v1h-1zM174 843h1v1h-1zM1255 855h1v1h-1zM1109 808h1v3h-1zM177 847h1v2h-1zM332 870h1v2h-1zM1236 860h1v1h-1zM1123 821h1v1h-1zM1256 856h1v1h-1zM534 852h1v2h-1zM620 855h1v2h-1zM537 857h1v2h-1zM864 834h1v2h-1zM1217 864h1v1h-1zM704 854h1v2h-1zM350 879h1v1h-1zM530 846h1v1h-1zM731 836h1v1h-1zM24 875h1v2h-1zM77 858h1v3h-1zM1157 855h1v1h-1zM101 838h1v2h-1zM488 858h1v1h-1zM1369 854h1v1h-1zM728 838h1v2h-1zM446 860h1v2h-1zM195 860h1v2h-1zM42 875h1v1h-1zM1036 838h1v2h-1zM701 858h1v1h-1zM127 833h1v1h-1zM902 848h1v1h-1zM1039 835h1v1h-1zM354 872h1v1h-1zM514 870h1v1h-1zM1059 822h1v1h-1zM199 866h1v2h-1zM346 886h1v1h-1zM1335 833h1v1h-1zM172 840h1v1h-1zM685 855h1v1h-1zM153 845h1v1h-1zM940 834h1v1h-1zM426 860h1v1h-1zM162 841h1v1h-1zM1145 848h1v1h-1zM591 847h1v1h-1zM154 846h1v1h-1zM1224 857h1v2h-1zM331 869h1v1h-1zM773 833h1v1h-1zM1263 848h1v2h-1zM944 831h1v1h-1zM430 866h1v1h-1zM533 851h1v1h-1zM1221 861h1v1h-1zM910 847h1v1h-1zM860 827h1v2h-1zM210 853h1v1h-1zM1186 866h1v2h-1zM23 873h1v2h-1zM715 854h1v1h-1zM814 833h1v1h-1zM959 833h1v1h-1zM517 865h1v2h-1zM646 857h1v2h-1zM1137 839h1v1h-1zM1212 860h1v1h-1zM498 861h1v1h-1zM1138 840h1v1h-1zM198 865h1v1h-1zM11 868h1v1h-1zM1213 861h1v1h-1zM1144 847h1v1h-1zM1332 836h1v1h-1zM433 870h1v2h-1zM536 855h1v2h-1zM1365 851h1v1h-1zM380 874h1v1h-1zM1197 866h1v2h-1zM183 854h1v1h-1zM383 878h1v2h-1zM1126 825h1v1h-1zM823 824h1v1h-1zM917 840h1v1h-1zM26 879h1v1h-1zM722 848h1v1h-1zM384 880h1v1h-1zM353 873h1v2h-1zM818 830h1v1h-1zM1136 837h1v2h-1zM494 858h1v1h-1zM1238 857h1v2h-1zM45 869h1v2h-1zM453 853h1v1h-1zM68 862h1v1h-1zM520 861h1v1h-1zM175 844h1v2h-1zM1181 852h1v3h-1zM643 861h1v1h-1zM1251 851h1v1h-1zM15 865h1v1h-1zM349 880h1v2h-1zM361 864h1v1h-1zM69 863h1v1h-1zM50 859h1v1h-1zM176 846h1v1h-1zM1277 836h1v1h-1zM638 867h1v1h-1zM641 863h1v1h-1zM558 856h1v1h-1zM1053 826h1v1h-1zM703 856h1v1h-1zM25 877h1v2h-1zM1322 843h1v1h-1zM1258 858h1v1h-1zM22 871h1v2h-1zM1200 862h1v1h-1zM749 837h1v1h-1zM612 850h1v1h-1zM981 842h1v1h-1zM1129 829h1v1h-1zM444 865h1v2h-1zM341 881h1v1h-1zM554 863h1v1h-1zM342 882h1v1h-1zM209 855h1v2h-1zM75 864h1v2h-1zM965 839h1v1h-1zM1235 861h1v1h-1zM912 845h1v1h-1zM619 857h1v1h-1zM432 869h1v1h-1zM352 875h1v2h-1zM333 872h1v1h-1zM1257 857h1v1h-1zM490 855h1v1h-1zM535 854h1v1h-1zM334 873h1v1h-1zM775 835h1v1h-1zM386 883h1v1h-1zM984 838h1v1h-1zM1061 820h1v1h-1zM1113 819h1v3h-1zM485 862h1v1h-1zM44 871h1v2h-1zM725 843h1v1h-1zM1038 836h1v1h-1zM516 867h1v1h-1zM1114 822h1v1h-1zM348 882h1v2h-1zM1334 834h1v1h-1zM196 862h1v1h-1zM615 854h1v1h-1zM939 835h1v1h-1zM825 822h1v1h-1zM1223 859h1v1h-1zM1226 855h1v1h-1zM178 849h1v1h-1zM622 853h1v1h-1zM588 851h1v1h-1zM1227 856h1v1h-1zM820 828h1v1h-1zM203 868h1v2h-1zM717 852h1v1h-1zM1196 868h1v1h-1zM306 863h1v1h-1zM1146 849h1v1h-1zM1218 865h1v1h-1zM1128 827h1v2h-1zM1315 834h1v1h-1zM561 850h1v2h-1zM1041 832h1v1h-1zM907 850h1v1h-1zM519 862h1v2h-1zM899 846h1v1h-1zM185 856h1v1h-1zM645 859h1v1h-1zM648 855h1v1h-1zM385 881h1v1h-1zM21 869h1v2h-1zM106 828h1v1h-1zM1173 853h1v1h-1zM147 838h1v1h-1zM1184 861h1v2h-1zM128 834h1v1h-1zM682 853h1v1h-1zM200 868h1v1h-1zM640 864h1v2h-1zM148 839h1v1h-1zM557 857h1v2h-1zM129 835h1v1h-1zM14 866h1v1h-1zM961 835h1v1h-1zM1139 841h1v1h-1zM48 863h1v2h-1zM637 868h1v1h-1zM721 849h1v1h-1zM74 867h1v1h-1zM184 855h1v1h-1zM1127 826h1v1h-1zM1237 859h1v1h-1zM960 834h1v1h-1zM1233 861h1v1h-1zM526 852h1v1h-1zM1252 852h1v1h-1zM405 854h1v1h-1zM82 847h1v1h-1zM1325 841h1v1h-1zM771 831h1v1h-1zM1317 837h1v1h-1zM921 837h1v1h-1z" fill="#1e90ff"/>
<rect x="0" y="27" width="1654" height="1" fill="#000"/>
<rect x="1653" y="27" width="1" height="902" fill="#000"/>
<rect x="0" y="580" width="1654" height="1" fill="#000"/>
<rect x="0" y="582" width="1654" height="1" fill="#000"/>
<rect x="0" y="752" width="1654" height="1" fill="#000"/>
<rect x="0" y="754" width="1654" height="1" fill="#000"/>
<rect x="0" y="928" width="1654" height="1" fill="#000"/>
<rect x="0" y="581" width="1656" height="1" fill="#fff"/>
<rect x="0" y="753" width="1656" height="1" fill="#fff"/>
<polygon points="1397,28 1408,28 1402.5,33.5" fill="#c0c0c0" shape-rendering="geometricPrecision"/>
<rect x="1654" y="49" width="2" height="1" fill="#000"/>
<rect x="1654" y="82" width="2" height="1" fill="#000"/>
<rect x="1654" y="115" width="2" height="1" fill="#000"/>
<rect x="1654" y="148" width="2" height="1" fill="#000"/>
<rect x="1654" y="181" width="2" height="1" fill="#000"/>
<rect x="1654" y="214" width="2" height="1" fill="#000"/>
<rect x="1654" y="247" width="2" height="1" fill="#000"/>
<rect x="1654" y="280" width="2" height="1" fill="#000"/>
<rect x="1654" y="313" width="2" height="1" fill="#000"/>
<rect x="1654" y="346" width="2" height="1" fill="#000"/>
<rect x="1654" y="379" width="2" height="1" fill="#000"/>
<rect x="1654" y="412" width="2" height="1" fill="#000"/>
<rect x="1654" y="445" width="2" height="1" fill="#000"/>
<rect x="1654" y="478" width="2" height="1" fill="#000"/>
<rect x="1654" y="511" width="2" height="1" fill="#000"/>
<rect x="1654" y="544" width="2" height="1" fill="#000"/>
<rect x="1654" y="577" width="2" height="1" fill="#000"/>
<rect x="1654" y="647" width="2" height="1" fill="#000"/>
<rect x="58" y="929" width="1" height="3" fill="#000"/>
<rect x="122" y="929" width="1" height="3" fill="#000"/>
<rect x="186" y="929" width="1" height="3" fill="#000"/>
<rect x="250" y="929" width="1" height="3" fill="#000"/>
<rect x="314" y="929" width="1" height="3" fill="#000"/>
<rect x="378" y="929" width="1" height="3" fill="#000"/>
<rect x="442" y="929" width="1" height="3" fill="#000"/>
<rect x="506" y="929" width="1" height="3" fill="#000"/>
<rect x="570" y="929" width="1" height="3" fill="#000"/>
<rect x="634" y="929" width="1" height="3" fill="#000"/>
<rect x="698" y="929" width="1" height="3" fill="#000"/>
<rect x="762" y="929" width="1" height="3" fill="#000"/>
<rect x="826" y="929" width="1" height="3" fill="#000"/>
<rect x="890" y="929" width="1" height="3" fill="#000"/>
<rect x="954" y="929" width="1" height="3" fill="#000"/>
<rect x="1018" y="929" width="1" height="3" fill="#000"/>
<rect x="1082" y="929" width="1" height="3" fill="#000"/>
<rect x="1146" y="929" width="1" height="3" fill="#000"/>
<rect x="1210" y="929" width="1" height="3" fill="#000"/>
<rect x="1274" y="929" width="1" height="3" fill="#000"/>
<rect x="1338" y="929" width="1" height="3" fill="#000"/>
<polygon points="0,33 0,38 5,38" fill="#000" shape-rendering="geometricPrecision"/>
</g>
<g>
<text transform="translate(1659 53) scale(0.93 1)" font-family="Liberation Sans, sans-serif" font-size="9.7" fill="#000" stroke="#000" stroke-width="0.1">28808.0</text>
<text transform="translate(1659 86) scale(0.93 1)" font-family="Liberation Sans, sans-serif" font-size="9.7" fill="#000" stroke="#000" stroke-width="0.1">28633.0</text>
<text transform="translate(1659 119) scale(0.93 1)" font-family="Liberation Sans, sans-serif" font-size="9.7" fill="#000" stroke="#000" stroke-width="0.1">28453.0</text>
<text transform="translate(1659 152) scale(0.93 1)" font-family="Liberation Sans, sans-serif" font-size="9.7" fill="#000" stroke="#000" stroke-width="0.1">28273.0</text>
<text transform="translate(1659 185) scale(0.93 1)" font-family="Liberation Sans, sans-serif" font-size="9.7" fill="#000" stroke="#000" stroke-width="0.1">28098.0</text>
<text transform="translate(1659 218) scale(0.93 1)" font-family="Liberation Sans, sans-serif" font-size="9.7" fill="#000" stroke="#000" stroke-width="0.1">27918.0</text>
<text transform="translate(1659 251) scale(0.93 1)" font-family="Liberation Sans, sans-serif" font-size="9.7" fill="#000" stroke="#000" stroke-width="0.1">27738.0</text>
<text transform="translate(1659 284) scale(0.93 1)" font-family="Liberation Sans, sans-serif" font-size="9.7" fill="#000" stroke="#000" stroke-width="0.1">27563.0</text>
<text transform="translate(1659 317) scale(0.93 1)" font-family="Liberation Sans, sans-serif" font-size="9.7" fill="#000" stroke="#000" stroke-width="0.1">27383.0</text>
<text transform="translate(1659 350) scale(0.93 1)" font-family="Liberation Sans, sans-serif" font-size="9.7" fill="#000" stroke="#000" stroke-width="0.1">27203.0</text>
<text transform="translate(1659 383) scale(0.93 1)" font-family="Liberation Sans, sans-serif" font-size="9.7" fill="#000" stroke="#000" stroke-width="0.1">27028.0</text>
<text transform="translate(1659 416) scale(0.93 1)" font-family="Liberation Sans, sans-serif" font-size="9.7" fill="#000" stroke="#000" stroke-width="0.1">26848.0</text>
<text transform="translate(1659 449) scale(0.93 1)" font-family="Liberation Sans, sans-serif" font-size="9.7" fill="#000" stroke="#000" stroke-width="0.1">26668.0</text>
<text transform="translate(1659 482) scale(0.93 1)" font-family="Liberation Sans, sans-serif" font-size="9.7" fill="#000" stroke="#000" stroke-width="0.1">26493.0</text>
<text transform="translate(1659 515) scale(0.93 1)" font-family="Liberation Sans, sans-serif" font-size="9.7" fill="#000" stroke="#000" stroke-width="0.1">26313.0</text>
<text transform="translate(1659 548) scale(0.93 1)" font-family="Liberation Sans, sans-serif" font-size="9.7" fill="#000" stroke="#000" stroke-width="0.1">26133.0</text>
<text transform="translate(1659 581) scale(0.93 1)" font-family="Liberation Sans, sans-serif" font-size="9.7" fill="#000" stroke="#000" stroke-width="0.1">25958.0</text>
<rect x="1655" y="325" width="41" height="11" fill="#ff0000" shape-rendering="crispEdges"/>
<text transform="translate(1659 334) scale(0.93 1)" font-family="Liberation Sans, sans-serif" font-size="9.7" fill="#fff" stroke="#fff" stroke-width="0.1">27286.3</text>
<rect x="1655" y="353" width="41" height="11" fill="#ff0000" shape-rendering="crispEdges"/>
<text transform="translate(1659 362) scale(0.93 1)" font-family="Liberation Sans, sans-serif" font-size="9.7" fill="#fff" stroke="#fff" stroke-width="0.1">27135.3</text>
<rect x="1655" y="382" width="41" height="11" fill="#32cd32" shape-rendering="crispEdges"/>
<text transform="translate(1659 391) scale(0.93 1)" font-family="Liberation Sans, sans-serif" font-size="9.7" fill="#fff" stroke="#fff" stroke-width="0.1">26978.8</text>
<rect x="1655" y="394" width="41" height="11" fill="#000000" shape-rendering="crispEdges"/>
<text transform="translate(1659 403) scale(0.93 1)" font-family="Liberation Sans, sans-serif" font-size="9.7" fill="#fff" stroke="#fff" stroke-width="0.1">26917.5</text>
<rect x="1655" y="420" width="41" height="11" fill="#0000ff" shape-rendering="crispEdges"/>
<text transform="translate(1659 429) scale(0.93 1)" font-family="Liberation Sans, sans-serif" font-size="9.7" fill="#fff" stroke="#fff" stroke-width="0.1">26773.8</text>
<rect x="1655" y="451" width="41" height="11" fill="#0000ff" shape-rendering="crispEdges"/>
<text transform="translate(1659 460) scale(0.93 1)" font-family="Liberation Sans, sans-serif" font-size="9.7" fill="#fff" stroke="#fff" stroke-width="0.1">26606.6</text>
<text transform="translate(1657 593) scale(0.93 1)" font-family="Liberation Sans, sans-serif" font-size="9.7" fill="#000" stroke="#000" stroke-width="0.1">164.44</text>
<text transform="translate(1657 650.5) scale(0.93 1)" font-family="Liberation Sans, sans-serif" font-size="9.7" fill="#000" stroke="#000" stroke-width="0.1">0.00</text>
<text transform="translate(1657 748.5) scale(0.93 1)" font-family="Liberation Sans, sans-serif" font-size="9.7" fill="#000" stroke="#000" stroke-width="0.1">-270.67</text>
<text transform="translate(1657 765) scale(0.93 1)" font-family="Liberation Sans, sans-serif" font-size="9.7" fill="#000" stroke="#000" stroke-width="0.1">100</text>
<text transform="translate(1657 794) scale(0.93 1)" font-family="Liberation Sans, sans-serif" font-size="9.7" fill="#000" stroke="#000" stroke-width="0.1">80</text>
<text transform="translate(1657 845) scale(0.93 1)" font-family="Liberation Sans, sans-serif" font-size="9.7" fill="#000" stroke="#000" stroke-width="0.1">50</text>
<text transform="translate(1657 906) scale(0.93 1)" font-family="Liberation Sans, sans-serif" font-size="9.7" fill="#000" stroke="#000" stroke-width="0.1">15</text>
<text transform="translate(1657 924.3) scale(0.93 1)" font-family="Liberation Sans, sans-serif" font-size="9.7" fill="#000" stroke="#000" stroke-width="0.1">0</text>
<text transform="translate(-6 941) scale(0.93 1)" font-family="Liberation Sans, sans-serif" font-size="9.7" fill="#000" stroke="#000" stroke-width="0.1">7 Jan 2022</text>
<text transform="translate(58 941) scale(0.93 1)" font-family="Liberation Sans, sans-serif" font-size="9.7" fill="#000" stroke="#000" stroke-width="0.1">11 Jan 00:00</text>
<text transform="translate(122 941) scale(0.93 1)" font-family="Liberation Sans, sans-serif" font-size="9.7" fill="#000" stroke="#000" stroke-width="0.1">12 Jan 10:55</text>
<text transform="translate(186 941) scale(0.93 1)" font-family="Liberation Sans, sans-serif" font-size="9.7" fill="#000" stroke="#000" stroke-width="0.1">13 Jan 18:55</text>
<text transform="translate(250 941) scale(0.93 1)" font-family="Liberation Sans, sans-serif" font-size="9.7" fill="#000" stroke="#000" stroke-width="0.1">17 Jan 00:00</text>
<text transform="translate(314 941) scale(0.93 1)" font-family="Liberation Sans, sans-serif" font-size="9.7" fill="#000" stroke="#000" stroke-width="0.1">18 Jan 10:55</text>
<text transform="translate(378 941) scale(0.93 1)" font-family="Liberation Sans, sans-serif" font-size="9.7" fill="#000" stroke="#000" stroke-width="0.1">19 Jan 18:55</text>
<text transform="translate(442 941) scale(0.93 1)" font-family="Liberation Sans, sans-serif" font-size="9.7" fill="#000" stroke="#000" stroke-width="0.1">21 Jan 00:00</text>
<text transform="translate(506 941) scale(0.93 1)" font-family="Liberation Sans, sans-serif" font-size="9.7" fill="#000" stroke="#000" stroke-width="0.1">24 Jan 10:55</text>
<text transform="translate(570 941) scale(0.93 1)" font-family="Liberation Sans, sans-serif" font-size="9.7" fill="#000" stroke="#000" stroke-width="0.1">25 Jan 18:55</text>
<text transform="translate(634 941) scale(0.93 1)" font-family="Liberation Sans, sans-serif" font-size="9.7" fill="#000" stroke="#000" stroke-width="0.1">27 Jan 00:00</text>
<text transform="translate(698 941) scale(0.93 1)" font-family="Liberation Sans, sans-serif" font-size="9.7" fill="#000" stroke="#000" stroke-width="0.1">28 Jan 10:55</text>
<text transform="translate(762 941) scale(0.93 1)" font-family="Liberation Sans, sans-serif" font-size="9.7" fill="#000" stroke="#000" stroke-width="0.1">31 Jan 18:55</text>
<text transform="translate(826 941) scale(0.93 1)" font-family="Liberation Sans, sans-serif" font-size="9.7" fill="#000" stroke="#000" stroke-width="0.1">2 Feb 00:00</text>
<text transform="translate(890 941) scale(0.93 1)" font-family="Liberation Sans, sans-serif" font-size="9.7" fill="#000" stroke="#000" stroke-width="0.1">3 Feb 10:55</text>
<text transform="translate(954 941) scale(0.93 1)" font-family="Liberation Sans, sans-serif" font-size="9.7" fill="#000" stroke="#000" stroke-width="0.1">4 Feb 18:55</text>
<text transform="translate(1018 941) scale(0.93 1)" font-family="Liberation Sans, sans-serif" font-size="9.7" fill="#000" stroke="#000" stroke-width="0.1">8 Feb 00:00</text>
<text transform="translate(1082 941) scale(0.93 1)" font-family="Liberation Sans, sans-serif" font-size="9.7" fill="#000" stroke="#000" stroke-width="0.1">9 Feb 10:55</text>
<text transform="translate(1146 941) scale(0.93 1)" font-family="Liberation Sans, sans-serif" font-size="9.7" fill="#000" stroke="#000" stroke-width="0.1">10 Feb 18:55</text>
<text transform="translate(1210 941) scale(0.93 1)" font-family="Liberation Sans, sans-serif" font-size="9.7" fill="#000" stroke="#000" stroke-width="0.1">14 Feb 00:00</text>
<text transform="translate(1274 941) scale(0.93 1)" font-family="Liberation Sans, sans-serif" font-size="9.7" fill="#000" stroke="#000" stroke-width="0.1">15 Feb 10:55</text>
<text transform="translate(1338 941) scale(0.93 1)" font-family="Liberation Sans, sans-serif" font-size="9.7" fill="#000" stroke="#000" stroke-width="0.1">16 Feb 18:55</text>
<text transform="translate(-1 595) scale(0.966 1)" font-family="Liberation Sans, sans-serif" font-size="9.7" fill="#000" stroke="#000" stroke-width="0.1">MACD(12,26,9) -49.06 2.80</text>
<text transform="translate(-1 767) scale(0.945 1)" font-family="Liberation Sans, sans-serif" font-size="9.7" fill="#000" stroke="#000" stroke-width="0.1">RSI(14) 38.2604</text>
<text transform="translate(8.5 39) scale(0.93 1)" font-family="Liberation Sans, sans-serif" font-size="9.7" fill="#000" stroke="#000" stroke-width="0.1">JPN225-,H4</text>
<text transform="translate(65.3 39) scale(0.93 1)" font-family="Liberation Sans, sans-serif" font-size="9.7" fill="#000" stroke="#000" stroke-width="0.1">27030.0</text>
<text transform="translate(101.2 39) scale(0.93 1)" font-family="Liberation Sans, sans-serif" font-size="9.7" fill="#000" stroke="#000" stroke-width="0.1">27037.5</text>
<text transform="translate(137 39) scale(0.93 1)" font-family="Liberation Sans, sans-serif" font-size="9.7" fill="#000" stroke="#000" stroke-width="0.1">26865.0</text>
<text transform="translate(173 39) scale(0.93 1)" font-family="Liberation Sans, sans-serif" font-size="9.7" fill="#000" stroke="#000" stroke-width="0.1">26917.5</text>
<rect x="1035.5" y="214.5" width="61" height="18" fill="#fff" stroke="#ff0000" stroke-width="1" shape-rendering="crispEdges"/>
<text x="1037.5" y="230" font-family="Liberation Sans, sans-serif" font-size="16" fill="#ff0000">27871.5</text>
<rect x="1097" y="223" width="10" height="1" fill="#f00" shape-rendering="crispEdges"/>
<rect x="1243.5" y="276.5" width="61" height="18" fill="#fff" stroke="#ff0000" stroke-width="1" shape-rendering="crispEdges"/>
<text x="1245.5" y="292" font-family="Liberation Sans, sans-serif" font-size="16" fill="#ff0000">27532.3</text>
<rect x="1305" y="285" width="10" height="1" fill="#f00" shape-rendering="crispEdges"/>
<rect x="1283.5" y="379.5" width="61" height="18" fill="#fff" stroke="#ff0000" stroke-width="1" shape-rendering="crispEdges"/>
<text x="1285.5" y="395" font-family="Liberation Sans, sans-serif" font-size="16" fill="#ff0000">26978.8</text>
<rect x="1345" y="388" width="10" height="1" fill="#f00" shape-rendering="crispEdges"/><rect x="1345" y="386" width="4" height="5" fill="#f00" shape-rendering="crispEdges"/><rect x="1346" y="387" width="2" height="3" fill="#fff" shape-rendering="crispEdges"/>
<rect x="1195.5" y="432.5" width="61" height="18" fill="#fff" stroke="#ff0000" stroke-width="1" shape-rendering="crispEdges"/>
<text x="1197.5" y="448" font-family="Liberation Sans, sans-serif" font-size="16" fill="#ff0000">26691.4</text>
<rect x="1257" y="441" width="10" height="1" fill="#f00" shape-rendering="crispEdges"/>
<rect x="1319" y="284" width="3" height="2" fill="#00ff00" shape-rendering="crispEdges"/>
<line x1="1322" y1="284" x2="1415.5" y2="421.4" stroke="#ff0000" stroke-width="3"/>
<polygon points="1420.8,429.3 1410.4,422.4 1418.2,417.1" fill="#ff0000"/>
<line x1="1337.6" y1="639.3" x2="1389.0" y2="668.9" stroke="#ff0000" stroke-width="3"/>
<polygon points="1397.2,673.6 1384.9,671.9 1389.6,663.8" fill="#ff0000"/>
<line x1="1326.7" y1="831.2" x2="1384.7" y2="863.1" stroke="#ff0000" stroke-width="3"/>
<polygon points="1393.0,867.7 1380.7,866.3 1385.2,858.0" fill="#ff0000"/>
</g>
<rect x="1699" y="25" width="1" height="917" fill="#e8e8e8"/>
</svg>
<div id="tb">
<svg width="1700" height="25" viewBox="0 0 1700 25" style="left:0;top:0">
<defs>
<pattern id="chk" width="2" height="2" patternUnits="userSpaceOnUse"><rect width="2" height="2" fill="#f0f0f0"/><rect width="1" height="1" fill="#fff"/><rect x="1" y="1" width="1" height="1" fill="#fff"/></pattern>
<linearGradient id="gPlus" x1="0" y1="0" x2="1" y2="1"><stop offset="0" stop-color="#a0ffa0"/><stop offset="0.45" stop-color="#28ee3c"/><stop offset="1" stop-color="#00b41c"/></linearGradient>
<linearGradient id="gGold" x1="0" y1="0" x2="1" y2="1"><stop offset="0" stop-color="#ffe060"/><stop offset="0.5" stop-color="#e8b010"/><stop offset="1" stop-color="#a86c08"/></linearGradient>
<linearGradient id="gLens" x1="0" y1="0" x2="0" y2="1"><stop offset="0" stop-color="#c4e6f8"/><stop offset="1" stop-color="#e8f6fc"/></linearGradient>
<linearGradient id="gRed" x1="0" y1="0" x2="0" y2="1"><stop offset="0" stop-color="#ea5838"/><stop offset="1" stop-color="#d81c08"/></linearGradient>
<linearGradient id="gBlueBar" x1="0" y1="0" x2="0" y2="1"><stop offset="0" stop-color="#9cc8f4"/><stop offset="1" stop-color="#2c6cc4"/></linearGradient>
<g id="axes" fill="none" stroke="#5c5c5c" stroke-width="1"><path d="M2.5 1.5V14.5M0 12.2H13"/><path d="M0.6 3.6L2.5 1.2L4.4 3.6M11 10.4L13.6 12.2L11 14" stroke-width="1"/></g>
<g id="plus"><path d="M4.6 0.5h3.2v4.1h4.1v3.2h-4.1v4.1h-3.2v-4.1h-4.1v-3.2h4.1z" fill="url(#gPlus)" stroke="#08901a" stroke-width="0.9"/></g>
<g id="dd"><path d="M0 0h5.6l-2.8 3.2z" fill="#000"/></g>
<g id="grip" fill="#a8a8a8"><rect y="1" width="3" height="1"/><rect y="3" width="3" height="1"/><rect y="5" width="3" height="1"/><rect y="7" width="3" height="1"/><rect y="9" width="3" height="1"/><rect y="11" width="3" height="1"/><rect y="13" width="3" height="1"/><rect y="15" width="3" height="1"/><rect y="17" width="3" height="1"/><rect y="19" width="3" height="1"/></g>
<linearGradient id="gCloud" x1="0" y1="0" x2="0" y2="1"><stop offset="0" stop-color="#ffffff"/><stop offset="0.5" stop-color="#f0f2f8"/><stop offset="1" stop-color="#b8c2d6"/></linearGradient>
<linearGradient id="gRadar" x1="0" y1="0" x2="0.6" y2="1"><stop offset="0" stop-color="#d8ead0"/><stop offset="1" stop-color="#58b058"/></linearGradient>
<linearGradient id="gYel" x1="0" y1="0" x2="0" y2="1"><stop offset="0" stop-color="#f4c828"/><stop offset="1" stop-color="#fcf080"/></linearGradient>
<linearGradient id="gClock" x1="0" y1="0" x2="1" y2="1"><stop offset="0" stop-color="#58b0ff"/><stop offset="0.5" stop-color="#1670e0"/><stop offset="1" stop-color="#0a48b0"/></linearGradient>
</defs>
<rect x="0" y="0" width="1700" height="22" fill="#f0f0f0"/>
<rect x="0" y="22" width="1700" height="1" fill="#d8d8d8"/>
<rect x="0" y="23" width="1700" height="1" fill="#909090"/>
<rect x="0" y="24" width="1700" height="1" fill="#6a6a6a"/>
<!-- selected button backgrounds -->
<rect x="342" y="0" width="24" height="21" fill="url(#chk)"/>
<rect x="494" y="0" width="24" height="21" fill="url(#chk)"/>
<rect x="522" y="0" width="24" height="21" fill="url(#chk)"/>
<rect x="682" y="0" width="24" height="21" fill="url(#chk)"/>
<rect x="1128" y="0" width="24" height="21" fill="url(#chk)"/>
<!-- separators -->
<g fill="#8c8c8c" shape-rendering="crispEdges">
<rect x="14" y="0" width="1" height="21"/>
<rect x="303" y="0" width="1" height="22"/><rect x="304" y="0" width="1" height="22" fill="#fff"/>
<rect x="341" y="0" width="1" height="21"/><rect x="398" y="0" width="1" height="21"/>
<rect x="488" y="0" width="1" height="21"/><rect x="493" y="0" width="1" height="21"/><rect x="521" y="0" width="1" height="21"/><rect x="550" y="0" width="1" height="21"/>
<rect x="671" y="0" width="1" height="22"/><rect x="672" y="0" width="1" height="22" fill="#fff"/>
<rect x="681" y="0" width="1" height="21"/><rect x="738" y="0" width="1" height="21"/>
<rect x="977" y="0" width="1" height="22"/><rect x="978" y="0" width="1" height="22" fill="#fff"/>
<rect x="1127" y="0" width="1" height="21"/>
<rect x="1238" y="0" width="1" height="22"/><rect x="1239" y="0" width="1" height="22" fill="#fff"/>
</g>
<use href="#grip" x="307" y="0"/><use href="#grip" x="675" y="0"/><use href="#grip" x="981" y="0"/>
<!-- left cut magnifier -->
<circle cx="-3" cy="9" r="5.6" fill="url(#gLens)" stroke="#4a8cd8" stroke-width="1.4"/>
<path d="M1.5 14L6 19" stroke="#c89820" stroke-width="3" stroke-linecap="butt"/>
<!-- diamond -->
<path d="M20.5 9l1.5 1.5l-1.5 1.5l-1.5-1.5z" fill="none" stroke="#000" stroke-width="0.9"/>
<!-- new order doc -->
<path d="M24.6 3.4h7.6l3.4 3.4v9.8h-11z" fill="#fff" stroke="#5e5e5e" stroke-width="1.1" stroke-linejoin="round"/>
<path d="M32.4 3.6v3.2h3.2" fill="#e8e8e8" stroke="#5e5e5e" stroke-width="0.8"/>
<rect x="26.5" y="5.4" width="3" height="1.4" fill="#7a7a7a"/><rect x="26.5" y="9" width="5.5" height="1" fill="#909090"/><rect x="26.5" y="11.2" width="5" height="1" fill="#909090"/><rect x="26.5" y="13.4" width="2.5" height="1" fill="#909090"/>
<use href="#plus" x="27.8" y="8.8" transform=""/>
<!-- gold book -->
<path d="M125.2 4.1L126.9 4L136 12.3V13.5L128.3 18.7L120 13.2V12.4C122.6 11 124 9.4 124.3 7.6Z" fill="url(#gGold)" stroke="#a46a08" stroke-width="0.9" stroke-linejoin="round"/>
<path d="M121 13.2L128.3 17.6L135.4 12.8" fill="none" stroke="#f4e4a8" stroke-width="0.9"/>
<path d="M125.6 5.2L134.8 12.4" fill="none" stroke="#fff0a0" stroke-width="0.7" opacity="0.7"/>
<!-- server + cloud -->
<path d="M149.9 3.6L153.6 5V13.4H149.9Z" fill="#0c90f0"/>
<path d="M153.6 5L161.3 4.6V13.4H153.6Z" fill="#1ca4ff"/>
<path d="M149.9 3.6L157.3 3L161.3 4.6L153.6 5Z" fill="#0a84e8"/>
<path d="M153.6 5V12.5" stroke="#d8f2ff" stroke-width="0.8"/>
<rect x="155.2" y="7.6" width="4.2" height="1.3" fill="#eaf8ff"/>
<path d="M151 18.3H160.6C164.4 18.3 164.4 13.6 161.4 13.3C161 11.4 158.6 11 157.8 12.2C156.6 10.4 153.4 10.8 153 13C151.6 11.9 149.6 12.8 149.8 14C147.2 14.2 147.2 18.3 151 18.3Z" fill="url(#gCloud)" stroke="#4464a4" stroke-width="0.9"/>
<!-- radar -->
<circle cx="183.9" cy="10.7" r="7.8" fill="#f6f6f0"/>
<path d="M183.9 10.7V18.5A7.8 7.8 0 0 0 191.7 10.7A7.8 7.8 0 0 0 187 3.6Z" fill="url(#gRadar)"/>
<g fill="none" stroke="#3464d4" stroke-width="1"><circle cx="183.9" cy="10.7" r="7.6" opacity="0.55"/><circle cx="183.9" cy="10.7" r="5" opacity="0.45"/><circle cx="183.9" cy="10.7" r="2.8" opacity="0.35"/></g>
<circle cx="183.7" cy="10.5" r="1.7" fill="#2c5cd0"/>
<path d="M184.5 11V18.7" stroke="#14a414" stroke-width="1.3"/>
<!-- autotrading -->
<path d="M203.4 10L218.8 9.4L216 15L211 18.6L209.6 18.2Z" fill="url(#gYel)" stroke="#d0a010" stroke-width="0.8" stroke-linejoin="round"/>
<ellipse cx="211" cy="7.8" rx="8" ry="2.9" fill="#52a8e0" stroke="#2484b8" stroke-width="0.8"/>
<path d="M207.2 7.4C207.2 1.4 214.8 1.4 214.8 7.4C212.8 8.4 209.2 8.4 207.2 7.4Z" fill="#6cbcec" stroke="#2484b8" stroke-width="0.7"/>
<circle cx="215.4" cy="14.5" r="4.2" fill="#dc2008"/><circle cx="215.4" cy="14.5" r="3.3" fill="#f03010"/><rect x="213.9" y="13" width="3.1" height="3.1" fill="#fff"/>
<!-- chart type icons -->
<use href="#axes" x="319" y="4"/>
<path d="M327.6 6v8.6M327.6 7.2h2.6M325 13.6h2.6" stroke="#089808" stroke-width="1.3" fill="none"/>
<use href="#axes" x="347" y="4"/>
<path d="M355.5 3v12" stroke="#089808" stroke-width="1.2"/><rect x="353.4" y="6" width="4.2" height="6.8" fill="#48e048" stroke="#089808" stroke-width="1"/>
<use href="#axes" x="375" y="4"/>
<path d="M376 13.8C379 11.5 381 8.4 382.6 8.4S386 11.4 388.4 12.6" stroke="#089808" stroke-width="1.2" fill="none"/>
<!-- zoom in / out -->
<circle cx="412.8" cy="9" r="5.4" fill="url(#gLens)" stroke="#3c84cc" stroke-width="1.4"/>
<path d="M409.4 9h6.8M412.8 5.6v6.8" stroke="#3878b0" stroke-width="1.9"/>
<path d="M416.8 13L422.4 18.6" stroke="#b48c1c" stroke-width="3.4"/><path d="M417.2 13.4L422 18.2" stroke="#f0d050" stroke-width="2"/>
<circle cx="441" cy="9" r="5.4" fill="url(#gLens)" stroke="#3c84cc" stroke-width="1.4"/>
<path d="M437.6 9h6.8" stroke="#3878b0" stroke-width="1.9"/>
<path d="M445 13L450.6 18.6" stroke="#b48c1c" stroke-width="3.4"/><path d="M445.4 13.4L450.2 18.2" stroke="#f0d050" stroke-width="2"/>
<!-- tile -->
<rect x="463" y="3.2" width="8" height="7.6" fill="#36a41c"/><rect x="471.2" y="3.2" width="8" height="7.6" fill="#2050d0"/>
<rect x="463" y="11" width="8" height="7.6" fill="#2050d0"/><rect x="471.2" y="11" width="8" height="7.6" fill="#36a41c"/>
<rect x="464" y="6" width="6" height="3.9" fill="#fff"/><rect x="472.2" y="6" width="6" height="3.9" fill="#fff"/><rect x="464" y="13.8" width="6" height="3.9" fill="#fff"/><rect x="472.2" y="13.8" width="6" height="3.9" fill="#fff"/><rect x="464" y="4.2" width="1" height="1" fill="#fff"/><rect x="472.2" y="4.2" width="1" height="1" fill="#fff"/><rect x="464" y="12" width="1" height="1" fill="#fff"/><rect x="472.2" y="12" width="1" height="1" fill="#fff"/>
<rect x="465.4" y="7.4" width="3.2" height="0.8" fill="#a0d890"/><rect x="473.6" y="7.4" width="3.2" height="0.8" fill="#90a8e8"/><rect x="465.4" y="15.2" width="3.2" height="0.8" fill="#90a8e8"/><rect x="473.6" y="15.2" width="3.2" height="0.8" fill="#a0d890"/>
<!-- autoscroll / shift -->
<use href="#axes" x="499" y="4"/>
<path d="M506.4 7.2L510.2 10.7L506.4 14.2Z" fill="#7cec8c" stroke="#089808" stroke-width="0.9"/>
<use href="#axes" x="527" y="4"/>
<path d="M535.5 5v9.8" stroke="#1070b0" stroke-width="1.3"/>
<path d="M536.6 10.6l3.4-2.4l-0.8 2.4l0.8 2.4z" fill="#e04808" stroke="#e04808" stroke-width="0.6"/><path d="M539 10.6h2.4" stroke="#e04808" stroke-width="1"/>
<!-- indicators -->
<path d="M560.6 3.4h7l3.4 3.4v9.8h-10.4z" fill="#fff" stroke="#909090" stroke-width="1" stroke-linejoin="round"/>
<path d="M567.6 3.4v3.4h3.4" fill="#e8e8e8" stroke="#909090" stroke-width="0.8"/>
<path d="M565.6 6.2c-1.8-0.4-2.4 0.6-2.4 2v6.6M561.8 9.6h3.4" stroke="#505038" stroke-width="1.1" fill="none"/>
<use href="#plus" x="563.8" y="8.6"/>
<use href="#dd" x="582" y="10"/>
<!-- clock -->
<circle cx="606" cy="10.8" r="7.9" fill="#0c4cb0"/>
<circle cx="606" cy="10.8" r="7.4" fill="url(#gClock)"/>
<circle cx="606" cy="10.8" r="5.2" fill="#fcfcfc" stroke="#0a50b8" stroke-width="0.5"/>
<g stroke="#8c8c8c" stroke-width="0.9" stroke-dasharray="0.9 1.77" fill="none"><circle cx="606" cy="10.8" r="4.1" /></g>
<path d="M606 6.8v4.2h2.8" stroke="#202020" stroke-width="1.15" fill="none"/>
<path d="M605 14.6h2" stroke="#5aa0f0" stroke-width="0.9"/>
<use href="#dd" x="621" y="10"/>
<!-- template -->
<rect x="637.5" y="4.6" width="15.4" height="13" fill="#fff" stroke="#3472c4" stroke-width="1.1"/>
<rect x="638" y="5" width="14.4" height="2.4" fill="url(#gBlueBar)"/>
<path d="M638 12.1h14.4" stroke="#3472c4" stroke-width="0.9"/>
<path d="M639.6 10.6h1.6l1.8-1.6h1.4l1.4 1h1.6l1.6-1.6h1.8" stroke="#a42408" stroke-width="1.05" fill="none"/>
<path d="M640.2 15.8h1.6l1.4-1h1.6l1.2 0.6l1.8-2h1l1.8 2.2" stroke="#0c9018" stroke-width="1.05" fill="none"/>
<use href="#dd" x="660" y="10"/>
<!-- cursor -->
<path d="M689.2 3.8V15.4L692 12.8L694.8 18.2L696.8 17.2L694.2 11.8H697.8Z" fill="#585858"/>
<!-- crosshair -->
<path d="M714 11.5h6.4M722.4 11.5h6.6M721.5 4v6.4M721.5 12.6v6.4" stroke="#505050" stroke-width="1.1"/>
<!-- line tools -->
<path d="M755.5 5v13" stroke="#505050" stroke-width="1.1"/>
<path d="M777.8 11.5h12.2" stroke="#505050" stroke-width="1.1"/>
<path d="M806 18L818 6" stroke="#505050" stroke-width="1"/>
<!-- channel -->
<path d="M831.6 12.5L839.8 5.1M837 17.6L845.9 9.4" stroke="#505050" stroke-width="0.8" fill="none"/>
<path d="M833 16.4L834.4 17.5V10.2L837.4 14.3V9.3L840.6 13V7L843.8 10.5L843.5 3.2" stroke="#484848" stroke-width="1.15" fill="none" stroke-linejoin="miter"/>
<text x="843" y="20" font-family="Liberation Sans, sans-serif" font-weight="bold" font-size="6.5" fill="#383838">E</text>
<!-- fib -->
<g stroke="#484848" stroke-width="1" stroke-dasharray="1 1" shape-rendering="crispEdges"><path d="M861 4.5h13M861 7.9h13M861 11.5h13M861 15.5h9.5"/></g>
<text x="870.6" y="20" font-family="Liberation Sans, sans-serif" font-weight="bold" font-size="6.5" fill="#383838">F</text>
<text x="891.4" y="15.8" font-family="Liberation Sans, sans-serif" font-weight="bold" font-size="12.4" fill="#606060">A</text>
<rect x="918.5" y="5.5" width="11" height="12" fill="none" stroke="#484848" stroke-width="1" stroke-dasharray="1 1" shape-rendering="crispEdges"/>
<text x="920.2" y="15.6" font-family="Liberation Sans, sans-serif" font-weight="bold" font-size="11.6" fill="#585858">T</text>
<!-- arrows -->
<path d="M945.4 8l3.4-3l3.4 3l-3.4 1.6z" fill="#505050"/>
<path d="M947.6 12.2l2 2l4.6-5" stroke="#505050" stroke-width="1.4" fill="none"/>
<path d="M952.6 14.6l3.4 3.2l3.4-3.2l-3.4-1.6z" fill="#505050"/>
<use href="#dd" x="966" y="10"/>
<!-- timeframes -->
<g font-family="Liberation Sans, sans-serif" font-size="9.5" fill="#404040">
<text x="992.2" y="15">M1</text><text x="1020.2" y="15">M5</text><text x="1046.2" y="15">M15</text><text x="1074.2" y="15">M30</text><text x="1105.2" y="15">H1</text>
<text x="1132.4" y="15">H4</text><text x="1161.2" y="15">D1</text><text x="1188.8" y="15">W1</text><text x="1215.4" y="15">MN</text>
</g>
<!-- search -->
<circle cx="1655.5" cy="8.4" r="4" fill="#fafaff" stroke="#2c60d4" stroke-width="1.2"/>
<path d="M1652.6 11.4L1647.6 16.4" stroke="#2458cc" stroke-width="2.2"/>
<!-- chat -->
<path d="M1677.8 8.2c3.4 0 6 2 6 4.6s-2.6 4.6-6 4.6c-0.4 0-0.8 0-1.2-0.1l-1.6 2.4l-0.2-2.8c-1.8-0.8-3-2.3-3-4.1c0-2.6 2.6-4.6 6-4.6z" fill="#e4e4ee" stroke="#a4a4ac" stroke-width="0.9"/>
<circle cx="1686.7" cy="8.2" r="8.2" fill="url(#gRed)"/>
<text x="1682.4" y="13.1" font-family="DejaVu Sans Condensed, DejaVu Sans, sans-serif" font-weight="bold" font-size="12" fill="#fff">1</text>
<!-- labels -->
<text x="43.4" y="14" font-family="Liberation Sans, sans-serif" font-size="12.5" letter-spacing="0.42" fill="#000">New Order</text>
<text x="224" y="14" font-family="Liberation Sans, sans-serif" font-size="12.5" letter-spacing="0.3" fill="#000">AutoTrading</text>
</svg>
</div>

<svg id="pn" width="217" height="58" viewBox="0 47 217 58" style="position:absolute;left:0;top:47px">
<defs>
<linearGradient id="gT" gradientUnits="userSpaceOnUse" x1="0" y1="47" x2="0" y2="71"><stop offset="0" stop-color="#fa5353"/><stop offset="1" stop-color="#e13333"/></linearGradient>
<linearGradient id="gB" gradientUnits="userSpaceOnUse" x1="0" y1="71" x2="0" y2="104"><stop offset="0" stop-color="#d92c2c"/><stop offset="0.75" stop-color="#bb0c0c"/><stop offset="1" stop-color="#ac0000"/></linearGradient>
<linearGradient id="gBtn" x1="0" y1="0" x2="0" y2="1"><stop offset="0" stop-color="#f2f2f2"/><stop offset="0.45" stop-color="#e6e6e6"/><stop offset="0.5" stop-color="#d8d8d8"/><stop offset="1" stop-color="#cecece"/></linearGradient>
</defs>
<g shape-rendering="crispEdges">
<rect x="0" y="47" width="216" height="57" fill="#fff"/>
<rect x="0" y="47" width="49" height="24" fill="url(#gT)"/>
<rect x="164" y="47" width="52" height="24" fill="url(#gT)"/>
<rect x="0" y="71" width="106" height="33" fill="url(#gB)"/>
<rect x="108" y="71" width="108" height="33" fill="url(#gB)"/>
<rect x="0" y="47" width="49" height="1" fill="#d62424"/><rect x="48" y="47" width="1" height="24" fill="#c81818"/>
<rect x="164" y="47" width="52" height="1" fill="#d62424"/><rect x="164" y="47" width="1" height="24" fill="#c81818"/><rect x="215" y="47" width="1" height="57" fill="#b81010"/>
<rect x="0" y="103" width="106" height="1" fill="#a00000"/><rect x="108" y="103" width="108" height="1" fill="#a00000"/>
<rect x="1" y="70" width="44" height="1" fill="#ab1212"/><rect x="1" y="71" width="44" height="1" fill="#f26a6a"/>
<rect x="168" y="70" width="44" height="1" fill="#ab1212"/><rect x="168" y="71" width="44" height="1" fill="#f26a6a"/>
<!-- volume box -->
<rect x="51" y="47" width="111" height="22" fill="#a4a8b4"/>
<rect x="52" y="48" width="109" height="20" fill="#fff"/>
<rect x="53" y="49" width="19" height="18" fill="url(#gBtn)"/><rect x="72" y="48" width="1" height="20" fill="#a4a8b4"/>
<rect x="142" y="49" width="18" height="18" fill="url(#gBtn)"/><rect x="141" y="48" width="1" height="20" fill="#a4a8b4"/>
</g>
<path d="M59 56.2h5.2l-2.6 3z" fill="#5060c0"/>
<path d="M148 59h5.2l-2.6-3z" fill="#5060c0"/>
<g font-family="Liberation Sans, sans-serif" fill="#fff">
<text x="9" y="63" font-size="12" letter-spacing="-0.55">SELL</text>
<text x="177.4" y="63" font-size="12" letter-spacing="-0.5">BUY</text>
<text x="136.8" y="62" font-size="12" fill="#000" text-anchor="end">1.00</text>
<text x="13" y="99" font-size="12" font-weight="bold" letter-spacing="0.4">26916</text>
<text x="122.8" y="99" font-size="12" font-weight="bold" letter-spacing="0.4">26939</text>
<text x="50.8" y="99" font-size="21" font-weight="bold">.</text>
<text x="162" y="99" font-size="21" font-weight="bold">.</text>
<text x="57.2" y="99" font-size="34.2" stroke="url(#gB)" stroke-width="0.9" paint-order="fill stroke">0</text>
<text x="168.2" y="99" font-size="34.2" stroke="url(#gB)" stroke-width="0.9" paint-order="fill stroke">0</text>
</g>
</svg>

</body></html>
